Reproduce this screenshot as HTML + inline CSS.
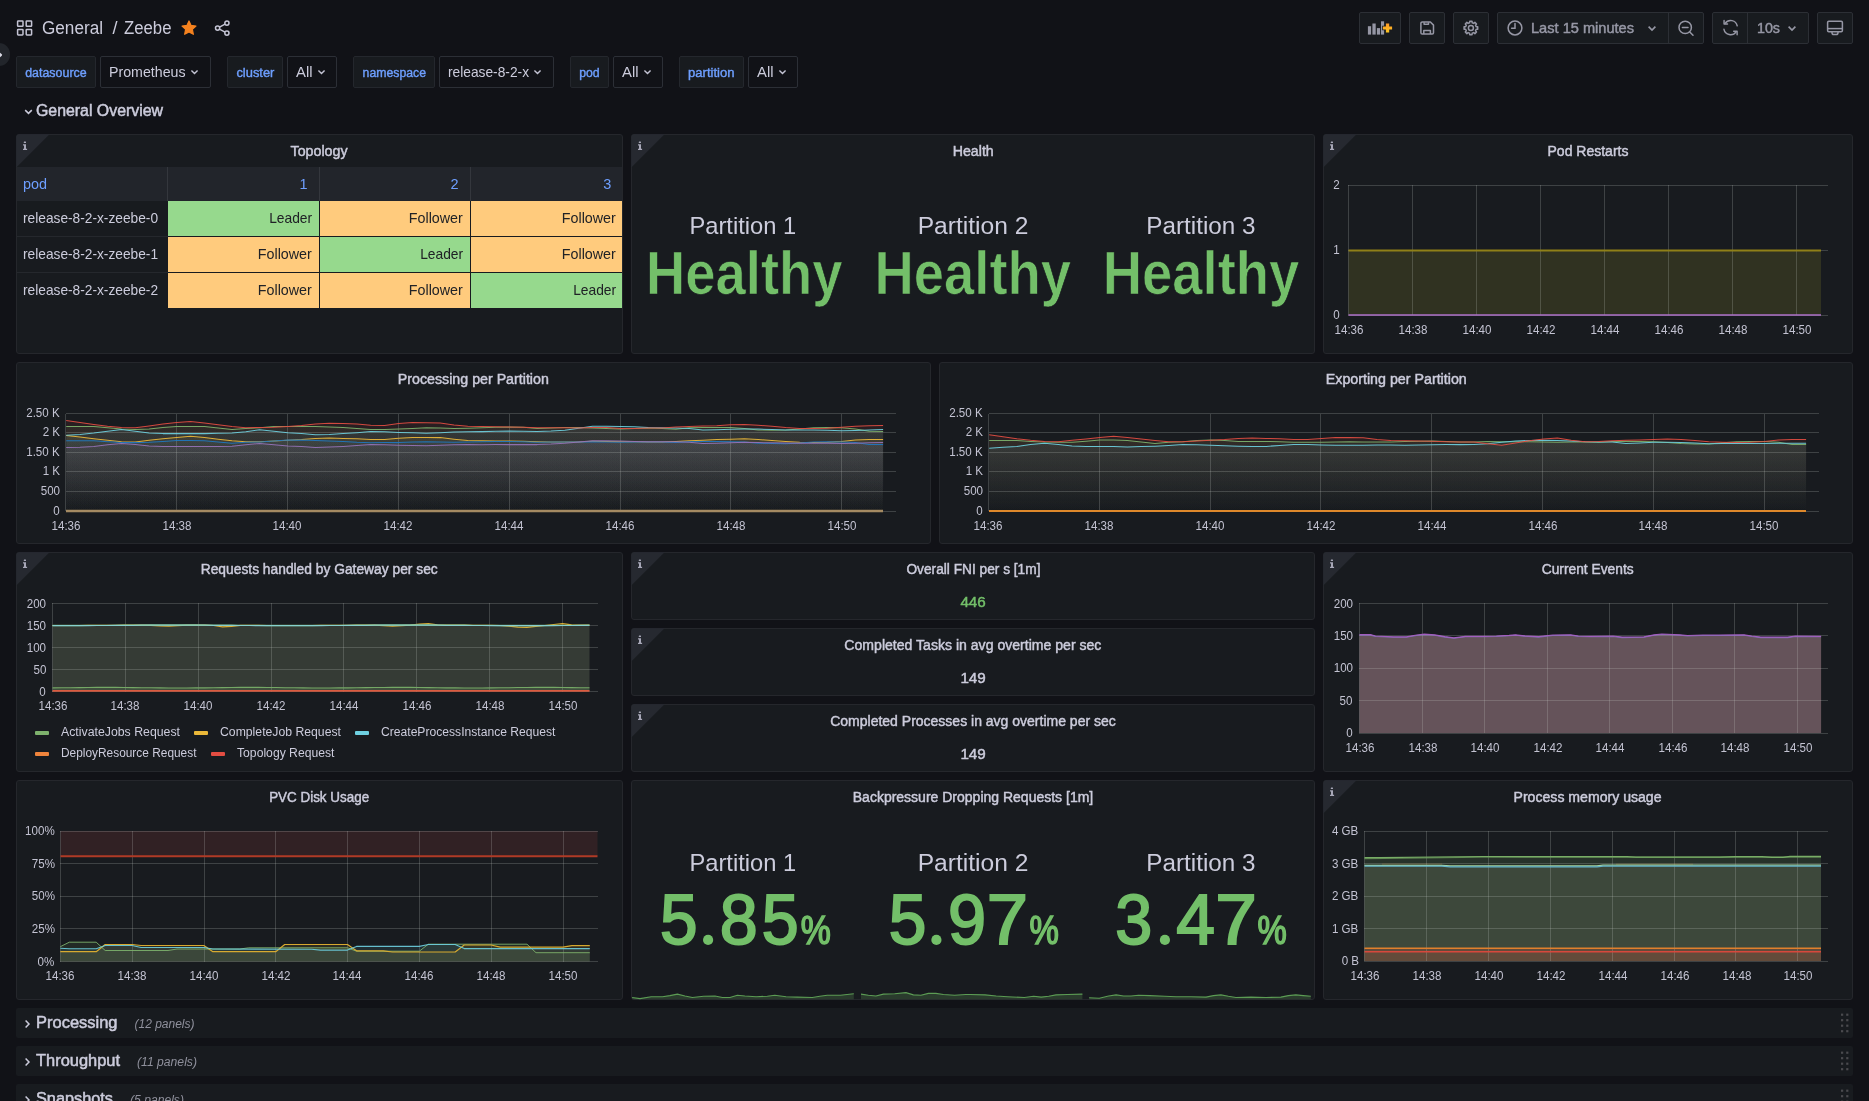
<!DOCTYPE html>
<html><head><meta charset="utf-8"><title>Zeebe - Grafana</title>
<style>
html,body{margin:0;padding:0;}
body{width:1869px;height:1101px;overflow:hidden;background:#111217;position:relative;font-family:"Liberation Sans",sans-serif;-webkit-font-smoothing:antialiased;}
span{display:block;}
svg{display:block;overflow:visible;}
#app{position:absolute;left:0;top:0;width:100%;height:100%;will-change:transform;}
</style></head><body><div id="app">
<svg style="position:absolute;left:16px;top:19px" width="18" height="18" viewBox="0 0 18 18" fill="none" stroke="#c4c4d4" stroke-width="1.5"><rect x="1.6" y="1.9" width="5.4" height="5.4" rx=".6"/><rect x="10.2" y="1.9" width="5.4" height="5.4" rx=".6"/><rect x="1.6" y="10.5" width="5.4" height="5.4" rx=".6"/><rect x="10.2" y="10.5" width="5.4" height="5.4" rx=".6"/></svg>
<span style="position:absolute;top:16.00px;font-size:18px;line-height:24px;color:#ccccdc;white-space:nowrap;left:42.00px;transform-origin:0 50%;transform:scaleX(0.9525);">General</span>
<span style="position:absolute;top:16.00px;font-size:18px;line-height:24px;color:#ccccdc;white-space:nowrap;left:112.50px;transform-origin:0 50%;">/</span>
<span style="position:absolute;top:16.00px;font-size:18px;line-height:24px;color:#ccccdc;white-space:nowrap;left:124.00px;transform-origin:0 50%;transform:scaleX(0.9306);">Zeebe</span>
<svg style="position:absolute;left:180px;top:19px" width="18" height="18" viewBox="0 0 24 24"><path d="M12 2.6l2.8 6 6.5.8-4.8 4.5 1.3 6.5L12 17.2l-5.8 3.2 1.3-6.5L2.7 9.4l6.5-.8z" fill="#f5821f" stroke="#f5821f" stroke-width="1.6" stroke-linejoin="round"/></svg>
<svg style="position:absolute;left:213px;top:19px" width="19" height="18" viewBox="0 0 19 18" fill="none" stroke="#c4c4d4" stroke-width="1.5"><circle cx="13.9" cy="4.1" r="2.1"/><circle cx="4.6" cy="9.1" r="2.1"/><circle cx="13.9" cy="14.1" r="2.1"/><path d="M6.5 8.1l5.5-3M6.5 10.1l5.5 3"/></svg>
<div style="position:absolute;left:-12px;top:43px;width:22px;height:23px;border-radius:12px;background:#22252b"></div>
<svg style="position:absolute;left:0;top:50px" width="4" height="10" viewBox="0 0 4 10"><path d="M-1.4 2.6l2.6 2.4-2.600 2.400" fill="none" stroke="#d8d8e4" stroke-width="1.8" stroke-linecap="round" stroke-linejoin="round"/></svg>
<div style="position:absolute;left:1359px;top:12px;width:42px;height:32px;box-sizing:border-box;background:#181b1f;border:1px solid #2c2f35;border-radius:2px;"></div>
<div style="position:absolute;left:1409px;top:12px;width:36px;height:32px;box-sizing:border-box;background:#181b1f;border:1px solid #2c2f35;border-radius:2px;"></div>
<div style="position:absolute;left:1453px;top:12px;width:36px;height:32px;box-sizing:border-box;background:#181b1f;border:1px solid #2c2f35;border-radius:2px;"></div>
<div style="position:absolute;left:1497px;top:12px;width:207px;height:32px;box-sizing:border-box;background:#181b1f;border:1px solid #2c2f35;border-radius:2px;"></div>
<div style="position:absolute;left:1668px;top:13px;width:1px;height:30px;box-sizing:border-box;background:#2c2f35;"></div>
<div style="position:absolute;left:1712px;top:12px;width:97px;height:32px;box-sizing:border-box;background:#181b1f;border:1px solid #2c2f35;border-radius:2px;"></div>
<div style="position:absolute;left:1747px;top:13px;width:1px;height:30px;box-sizing:border-box;background:#2c2f35;"></div>
<div style="position:absolute;left:1817px;top:12px;width:36px;height:32px;box-sizing:border-box;background:#181b1f;border:1px solid #2c2f35;border-radius:2px;"></div>
<svg style="position:absolute;left:1365px;top:18px" width="30" height="20" viewBox="1365 18 30 20"><defs><linearGradient id="plg" x1="0" y1="0" x2="0" y2="1"><stop offset="0" stop-color="#ff9a26"/><stop offset="1" stop-color="#fcc521"/></linearGradient></defs><g fill="#9596a4"><rect x="1367.9" y="26.2" width="3.2" height="8.4"/><rect x="1372.4" y="23.5" width="3.3" height="11.1"/><rect x="1376.9" y="28.1" width="3.2" height="6.5"/><rect x="1381" y="21.3" width="3.1" height="13.3"/></g><path d="M1385.9 23.6h3.3v2.8h2.9v3.2h-2.9v2.8h-3.3v-2.8h-3v-3.2h3z" fill="url(#plg)" stroke="#181b1f" stroke-width="1.5" paint-order="stroke"/></svg>
<svg style="position:absolute;left:1418px;top:19px" width="18" height="18" viewBox="1418 19 18 18" fill="none" stroke="#9697a5" stroke-width="1.5" stroke-linejoin="round"><path d="M1422.2 22h8.2l3.1 3.1v7.7a1.3 1.3 0 0 1-1.3 1.3h-10a1.3 1.3 0 0 1-1.3-1.3V23.300a1.3 1.3 0 0 1 1.3-1.3z"/><path d="M1424.1 22.2v2.1h4.4v-2.100M1423.8 34v-3.4h6.600V34"/></svg>
<svg style="position:absolute;left:1461px;top:18px" width="20" height="20" viewBox="1461 18 20 20" fill="none" stroke="#9697a5" stroke-width="1.5" stroke-linejoin="round"><circle cx="1470.9" cy="28" r="2.5"/><path d="M1469.64 22.75L1469.77 21.19L1472.03 21.19L1472.16 22.75L1473.72 23.40L1474.91 22.39L1476.51 23.99L1475.50 25.18L1476.15 26.74L1477.71 26.87L1477.71 29.13L1476.15 29.26L1475.50 30.82L1476.51 32.01L1474.91 33.61L1473.72 32.60L1472.16 33.25L1472.03 34.81L1469.77 34.81L1469.64 33.25L1468.08 32.60L1466.89 33.61L1465.29 32.01L1466.30 30.82L1465.65 29.26L1464.09 29.13L1464.09 26.87L1465.65 26.74L1466.30 25.18L1465.29 23.99L1466.89 22.39L1468.08 23.40Z"/></svg>
<svg style="position:absolute;left:1506px;top:19px" width="18" height="18" viewBox="0 0 18 18" fill="none" stroke="#9697a5" stroke-width="1.5"><circle cx="9" cy="9" r="6.9"/><path d="M9 4.6v4.6H5.6" stroke-linecap="round"/></svg>
<span style="position:absolute;top:18.50px;font-size:14.5px;line-height:19px;color:#9697a5;white-space:nowrap;-webkit-text-stroke:0.46px #9697a5;left:1531.00px;transform-origin:0 50%;transform:scaleX(1.0064);">Last 15 minutes</span>
<svg style="position:absolute;left:1647px;top:25px" width="10.0" height="7.0" viewBox="0 0 10 7"><path d="M1.6 1.6l3.4 3.4 3.4-3.4" fill="none" stroke="#9697a5" stroke-width="1.6"/></svg>
<svg style="position:absolute;left:1677px;top:19px" width="19" height="19" viewBox="0 0 19 19" fill="none" stroke="#9697a5" stroke-width="1.5" stroke-linecap="round"><circle cx="8.2" cy="8.4" r="6.2"/><path d="M5.4 8.4h5.6M12.8 13l3.2 3.2"/></svg>
<svg style="position:absolute;left:1720.5px;top:18.4px" width="19.2" height="19.2" viewBox="0 0 20 20" fill="none" stroke="#9697a5" stroke-width="1.5" stroke-linecap="round" stroke-linejoin="round"><path d="M16.9 8.2A7 7 0 0 0 4.3 5.6M3.1 11.8a7 7 0 0 0 12.6 2.6"/><path d="M3.2 2.6v3.6h3.6M16.8 17.4v-3.6h-3.6"/></svg>
<span style="position:absolute;top:18.50px;font-size:14.5px;line-height:19px;color:#9697a5;white-space:nowrap;-webkit-text-stroke:0.46px #9697a5;left:1757.00px;transform-origin:0 50%;transform:scaleX(0.9840);">10s</span>
<svg style="position:absolute;left:1787px;top:25px" width="10.0" height="7.0" viewBox="0 0 10 7"><path d="M1.6 1.6l3.4 3.4 3.4-3.4" fill="none" stroke="#9697a5" stroke-width="1.6"/></svg>
<svg style="position:absolute;left:1825px;top:19px" width="20" height="18" viewBox="0 0 20 18" fill="none" stroke="#9697a5" stroke-width="1.5" stroke-linejoin="round"><rect x="2.6" y="2.2" width="14.8" height="10.6" rx="1.2"/><path d="M2.6 9.6h14.8"/><path d="M7 13v.8c0 1.2.8 1.8 1.8 1.8h2.4c1 0 1.8-.6 1.8-1.8V13" /></svg>
<div style="position:absolute;left:16px;top:56px;width:80px;height:32px;box-sizing:border-box;background:#181b1f;border:1px solid #24272d;border-radius:2px;"></div>
<span style="position:absolute;top:64.50px;font-size:12.5px;line-height:17px;color:#6e9fff;white-space:nowrap;-webkit-text-stroke:0.4px #6e9fff;left:25.07px;transform-origin:50% 50%;transform:scaleX(0.9943);">datasource</span>
<div style="position:absolute;left:100px;top:56px;width:111px;height:32px;box-sizing:border-box;background:#111217;border:1px solid #2c2f36;border-radius:2px;"></div>
<span style="position:absolute;top:62.50px;font-size:14.5px;line-height:19px;color:#ccccdc;white-space:nowrap;left:109.00px;transform-origin:0 50%;transform:scaleX(0.9787);">Prometheus</span>
<svg style="position:absolute;left:189.5px;top:69px" width="9.0" height="6.3" viewBox="0 0 10 7"><path d="M1.6 1.6l3.4 3.4 3.4-3.4" fill="none" stroke="#c4c4d4" stroke-width="1.6"/></svg>
<div style="position:absolute;left:227px;top:56px;width:56px;height:32px;box-sizing:border-box;background:#181b1f;border:1px solid #24272d;border-radius:2px;"></div>
<span style="position:absolute;top:64.50px;font-size:12.5px;line-height:17px;color:#6e9fff;white-space:nowrap;-webkit-text-stroke:0.4px #6e9fff;left:236.59px;transform-origin:50% 50%;transform:scaleX(1.0320);">cluster</span>
<div style="position:absolute;left:287px;top:56px;width:50px;height:32px;box-sizing:border-box;background:#111217;border:1px solid #2c2f36;border-radius:2px;"></div>
<span style="position:absolute;top:62.50px;font-size:14.5px;line-height:19px;color:#ccccdc;white-space:nowrap;left:296.00px;transform-origin:0 50%;transform:scaleX(1.0238);">All</span>
<svg style="position:absolute;left:316.5px;top:69px" width="9.0" height="6.3" viewBox="0 0 10 7"><path d="M1.6 1.6l3.4 3.4 3.4-3.4" fill="none" stroke="#c4c4d4" stroke-width="1.6"/></svg>
<div style="position:absolute;left:353px;top:56px;width:82px;height:32px;box-sizing:border-box;background:#181b1f;border:1px solid #24272d;border-radius:2px;"></div>
<span style="position:absolute;top:64.50px;font-size:12.5px;line-height:17px;color:#6e9fff;white-space:nowrap;-webkit-text-stroke:0.4px #6e9fff;left:361.68px;transform-origin:50% 50%;transform:scaleX(0.9825);">namespace</span>
<div style="position:absolute;left:439px;top:56px;width:115px;height:32px;box-sizing:border-box;background:#111217;border:1px solid #2c2f36;border-radius:2px;"></div>
<span style="position:absolute;top:62.50px;font-size:14.5px;line-height:19px;color:#ccccdc;white-space:nowrap;left:448.00px;transform-origin:0 50%;transform:scaleX(0.9484);">release-8-2-x</span>
<svg style="position:absolute;left:533px;top:69px" width="9.0" height="6.3" viewBox="0 0 10 7"><path d="M1.6 1.6l3.4 3.4 3.4-3.4" fill="none" stroke="#c4c4d4" stroke-width="1.6"/></svg>
<div style="position:absolute;left:570px;top:56px;width:39px;height:32px;box-sizing:border-box;background:#181b1f;border:1px solid #24272d;border-radius:2px;"></div>
<span style="position:absolute;top:64.50px;font-size:12.5px;line-height:17px;color:#6e9fff;white-space:nowrap;-webkit-text-stroke:0.4px #6e9fff;left:579.07px;transform-origin:50% 50%;transform:scaleX(0.9828);">pod</span>
<div style="position:absolute;left:613px;top:56px;width:50px;height:32px;box-sizing:border-box;background:#111217;border:1px solid #2c2f36;border-radius:2px;"></div>
<span style="position:absolute;top:62.50px;font-size:14.5px;line-height:19px;color:#ccccdc;white-space:nowrap;left:622.00px;transform-origin:0 50%;transform:scaleX(1.0238);">All</span>
<svg style="position:absolute;left:642.5px;top:69px" width="9.0" height="6.3" viewBox="0 0 10 7"><path d="M1.6 1.6l3.4 3.4 3.4-3.4" fill="none" stroke="#c4c4d4" stroke-width="1.6"/></svg>
<div style="position:absolute;left:679px;top:56px;width:65px;height:32px;box-sizing:border-box;background:#181b1f;border:1px solid #24272d;border-radius:2px;"></div>
<span style="position:absolute;top:64.50px;font-size:12.5px;line-height:17px;color:#6e9fff;white-space:nowrap;-webkit-text-stroke:0.4px #6e9fff;left:689.26px;transform-origin:50% 50%;transform:scaleX(1.0455);">partition</span>
<div style="position:absolute;left:748px;top:56px;width:50px;height:32px;box-sizing:border-box;background:#111217;border:1px solid #2c2f36;border-radius:2px;"></div>
<span style="position:absolute;top:62.50px;font-size:14.5px;line-height:19px;color:#ccccdc;white-space:nowrap;left:757.00px;transform-origin:0 50%;transform:scaleX(1.0238);">All</span>
<svg style="position:absolute;left:777.5px;top:69px" width="9.0" height="6.3" viewBox="0 0 10 7"><path d="M1.6 1.6l3.4 3.4 3.4-3.4" fill="none" stroke="#c4c4d4" stroke-width="1.6"/></svg>
<svg style="position:absolute;left:23.6px;top:108.8px" width="9" height="6" viewBox="0 0 9 6"><path d="M1.2 1.1l3.3 3.3 3.3-3.3" fill="none" stroke="#ccccdc" stroke-width="1.5"/></svg>
<span style="position:absolute;top:100.00px;font-size:16px;line-height:21px;color:#ccccdc;white-space:nowrap;-webkit-text-stroke:0.51px #ccccdc;left:36.00px;transform-origin:0 50%;transform:scaleX(0.9918);">General Overview</span>
<div style="position:absolute;left:16px;top:134px;width:607px;height:220px;box-sizing:border-box;background:#181b1f;border:1px solid #25272c;border-radius:3px;"></div>
<svg style="position:absolute;left:16px;top:134px" width="34" height="34" viewBox="0 0 34 34"><path d="M0.300 3.300a3 3 0 0 1 3-3H33.600L0.300 33.600Z" fill="#262930"/><g fill="#a7a7b7"><rect x="7.8" y="7.5" width="2.2" height="1.600" rx=".4"/><path d="M7 10.300h3v4.400h1.100v1.300H7v-1.300h1v-3.200H7z"/></g></svg>
<span style="position:absolute;top:141.50px;font-size:14px;line-height:19px;color:#ccccdc;white-space:nowrap;-webkit-text-stroke:0.45px #ccccdc;left:291.48px;transform-origin:50% 50%;transform:scaleX(1.0172);">Topology</span>
<div style="position:absolute;left:631px;top:134px;width:684px;height:220px;box-sizing:border-box;background:#181b1f;border:1px solid #25272c;border-radius:3px;"></div>
<svg style="position:absolute;left:631px;top:134px" width="34" height="34" viewBox="0 0 34 34"><path d="M0.300 3.300a3 3 0 0 1 3-3H33.600L0.300 33.600Z" fill="#262930"/><g fill="#a7a7b7"><rect x="7.8" y="7.5" width="2.2" height="1.600" rx=".4"/><path d="M7 10.300h3v4.400h1.100v1.300H7v-1.300h1v-3.200H7z"/></g></svg>
<span style="position:absolute;top:141.50px;font-size:14px;line-height:19px;color:#ccccdc;white-space:nowrap;-webkit-text-stroke:0.45px #ccccdc;left:952.77px;transform-origin:50% 50%;transform:scaleX(1.0132);">Health</span>
<div style="position:absolute;left:1323px;top:134px;width:530px;height:220px;box-sizing:border-box;background:#181b1f;border:1px solid #25272c;border-radius:3px;"></div>
<svg style="position:absolute;left:1323px;top:134px" width="34" height="34" viewBox="0 0 34 34"><path d="M0.300 3.300a3 3 0 0 1 3-3H33.600L0.300 33.600Z" fill="#262930"/><g fill="#a7a7b7"><rect x="7.8" y="7.5" width="2.2" height="1.600" rx=".4"/><path d="M7 10.300h3v4.400h1.100v1.300H7v-1.300h1v-3.200H7z"/></g></svg>
<span style="position:absolute;top:141.50px;font-size:14px;line-height:19px;color:#ccccdc;white-space:nowrap;-webkit-text-stroke:0.45px #ccccdc;left:1547.54px;transform-origin:50% 50%;">Pod Restarts</span>
<div style="position:absolute;left:16px;top:362px;width:915px;height:182px;box-sizing:border-box;background:#181b1f;border:1px solid #25272c;border-radius:3px;"></div>
<span style="position:absolute;top:369.50px;font-size:14px;line-height:19px;color:#ccccdc;white-space:nowrap;-webkit-text-stroke:0.45px #ccccdc;left:399.19px;transform-origin:50% 50%;transform:scaleX(1.0160);">Processing per Partition</span>
<div style="position:absolute;left:939px;top:362px;width:914px;height:182px;box-sizing:border-box;background:#181b1f;border:1px solid #25272c;border-radius:3px;"></div>
<span style="position:absolute;top:369.50px;font-size:14px;line-height:19px;color:#ccccdc;white-space:nowrap;-webkit-text-stroke:0.45px #ccccdc;left:1326.74px;transform-origin:50% 50%;transform:scaleX(1.0179);">Exporting per Partition</span>
<div style="position:absolute;left:16px;top:552px;width:607px;height:220px;box-sizing:border-box;background:#181b1f;border:1px solid #25272c;border-radius:3px;"></div>
<svg style="position:absolute;left:16px;top:552px" width="34" height="34" viewBox="0 0 34 34"><path d="M0.300 3.300a3 3 0 0 1 3-3H33.600L0.300 33.600Z" fill="#262930"/><g fill="#a7a7b7"><rect x="7.8" y="7.5" width="2.2" height="1.600" rx=".4"/><path d="M7 10.300h3v4.400h1.100v1.300H7v-1.300h1v-3.200H7z"/></g></svg>
<span style="position:absolute;top:559.50px;font-size:14px;line-height:19px;color:#ccccdc;white-space:nowrap;-webkit-text-stroke:0.45px #ccccdc;left:199.27px;transform-origin:50% 50%;transform:scaleX(0.9856);">Requests handled by Gateway per sec</span>
<div style="position:absolute;left:631px;top:552px;width:684px;height:68px;box-sizing:border-box;background:#181b1f;border:1px solid #25272c;border-radius:3px;"></div>
<svg style="position:absolute;left:631px;top:552px" width="34" height="34" viewBox="0 0 34 34"><path d="M0.300 3.300a3 3 0 0 1 3-3H33.600L0.300 33.600Z" fill="#262930"/><g fill="#a7a7b7"><rect x="7.8" y="7.5" width="2.2" height="1.600" rx=".4"/><path d="M7 10.300h3v4.400h1.100v1.300H7v-1.300h1v-3.200H7z"/></g></svg>
<span style="position:absolute;top:559.50px;font-size:14px;line-height:19px;color:#ccccdc;white-space:nowrap;-webkit-text-stroke:0.45px #ccccdc;left:904.54px;transform-origin:50% 50%;transform:scaleX(0.9787);">Overall FNI per s [1m]</span>
<div style="position:absolute;left:631px;top:628px;width:684px;height:68px;box-sizing:border-box;background:#181b1f;border:1px solid #25272c;border-radius:3px;"></div>
<svg style="position:absolute;left:631px;top:628px" width="34" height="34" viewBox="0 0 34 34"><path d="M0.300 3.300a3 3 0 0 1 3-3H33.600L0.300 33.600Z" fill="#262930"/><g fill="#a7a7b7"><rect x="7.8" y="7.5" width="2.2" height="1.600" rx=".4"/><path d="M7 10.300h3v4.400h1.100v1.300H7v-1.300h1v-3.200H7z"/></g></svg>
<span style="position:absolute;top:635.50px;font-size:14px;line-height:19px;color:#ccccdc;white-space:nowrap;-webkit-text-stroke:0.45px #ccccdc;left:845.13px;transform-origin:50% 50%;transform:scaleX(1.0049);">Completed Tasks in avg overtime per sec</span>
<div style="position:absolute;left:631px;top:704px;width:684px;height:68px;box-sizing:border-box;background:#181b1f;border:1px solid #25272c;border-radius:3px;"></div>
<svg style="position:absolute;left:631px;top:704px" width="34" height="34" viewBox="0 0 34 34"><path d="M0.300 3.300a3 3 0 0 1 3-3H33.600L0.300 33.600Z" fill="#262930"/><g fill="#a7a7b7"><rect x="7.8" y="7.5" width="2.2" height="1.600" rx=".4"/><path d="M7 10.300h3v4.400h1.100v1.300H7v-1.300h1v-3.200H7z"/></g></svg>
<span style="position:absolute;top:711.50px;font-size:14px;line-height:19px;color:#ccccdc;white-space:nowrap;-webkit-text-stroke:0.45px #ccccdc;left:830.21px;transform-origin:50% 50%;">Completed Processes in avg overtime per sec</span>
<div style="position:absolute;left:1323px;top:552px;width:530px;height:220px;box-sizing:border-box;background:#181b1f;border:1px solid #25272c;border-radius:3px;"></div>
<svg style="position:absolute;left:1323px;top:552px" width="34" height="34" viewBox="0 0 34 34"><path d="M0.300 3.300a3 3 0 0 1 3-3H33.600L0.300 33.600Z" fill="#262930"/><g fill="#a7a7b7"><rect x="7.8" y="7.5" width="2.2" height="1.600" rx=".4"/><path d="M7 10.300h3v4.400h1.100v1.300H7v-1.300h1v-3.200H7z"/></g></svg>
<span style="position:absolute;top:559.50px;font-size:14px;line-height:19px;color:#ccccdc;white-space:nowrap;-webkit-text-stroke:0.45px #ccccdc;left:1541.31px;transform-origin:50% 50%;transform:scaleX(0.9853);">Current Events</span>
<div style="position:absolute;left:16px;top:780px;width:607px;height:220px;box-sizing:border-box;background:#181b1f;border:1px solid #25272c;border-radius:3px;"></div>
<span style="position:absolute;top:787.50px;font-size:14px;line-height:19px;color:#ccccdc;white-space:nowrap;-webkit-text-stroke:0.45px #ccccdc;left:267.37px;transform-origin:50% 50%;transform:scaleX(0.9592);">PVC Disk Usage</span>
<div style="position:absolute;left:631px;top:780px;width:684px;height:220px;box-sizing:border-box;background:#181b1f;border:1px solid #25272c;border-radius:3px;"></div>
<span style="position:absolute;top:787.50px;font-size:14px;line-height:19px;color:#ccccdc;white-space:nowrap;-webkit-text-stroke:0.45px #ccccdc;left:852.78px;transform-origin:50% 50%;">Backpressure Dropping Requests [1m]</span>
<div style="position:absolute;left:1323px;top:780px;width:530px;height:220px;box-sizing:border-box;background:#181b1f;border:1px solid #25272c;border-radius:3px;"></div>
<svg style="position:absolute;left:1323px;top:780px" width="34" height="34" viewBox="0 0 34 34"><path d="M0.300 3.300a3 3 0 0 1 3-3H33.600L0.300 33.600Z" fill="#262930"/><g fill="#a7a7b7"><rect x="7.8" y="7.5" width="2.2" height="1.600" rx=".4"/><path d="M7 10.300h3v4.400h1.100v1.300H7v-1.300h1v-3.200H7z"/></g></svg>
<span style="position:absolute;top:787.50px;font-size:14px;line-height:19px;color:#ccccdc;white-space:nowrap;-webkit-text-stroke:0.45px #ccccdc;left:1514.47px;transform-origin:50% 50%;transform:scaleX(1.0064);">Process memory usage</span>
<div style="position:absolute;left:17px;top:167px;width:605px;height:34px;box-sizing:border-box;background:#22252b;"></div>
<div style="position:absolute;left:167px;top:167px;width:1px;height:34px;box-sizing:border-box;background:#34373d;"></div>
<div style="position:absolute;left:319px;top:167px;width:1px;height:34px;box-sizing:border-box;background:#34373d;"></div>
<div style="position:absolute;left:470px;top:167px;width:1px;height:34px;box-sizing:border-box;background:#34373d;"></div>
<span style="position:absolute;top:174.50px;font-size:14.5px;line-height:19px;color:#6e9fff;white-space:nowrap;left:23.00px;transform-origin:0 50%;transform:scaleX(0.9922);">pod</span>
<span style="position:absolute;top:174.50px;font-size:14.5px;line-height:19px;color:#6e9fff;white-space:nowrap;left:299.44px;transform-origin:100% 50%;">1</span>
<span style="position:absolute;top:174.50px;font-size:14.5px;line-height:19px;color:#6e9fff;white-space:nowrap;left:450.44px;transform-origin:100% 50%;">2</span>
<span style="position:absolute;top:174.50px;font-size:14.5px;line-height:19px;color:#6e9fff;white-space:nowrap;left:603.24px;transform-origin:100% 50%;">3</span>
<div style="position:absolute;left:17px;top:236px;width:151px;height:1px;box-sizing:border-box;background:#25282d;"></div>
<span style="position:absolute;top:209.00px;font-size:14.5px;line-height:19px;color:#ccccdc;white-space:nowrap;left:23.00px;transform-origin:0 50%;transform:scaleX(0.9465);">release-8-2-x-zeebe-0</span>
<div style="position:absolute;left:168px;top:201px;width:151px;height:35px;box-sizing:border-box;background:#96d98d;"></div>
<span style="position:absolute;top:209.00px;font-size:14.5px;line-height:19px;color:#202226;white-space:nowrap;left:266.86px;transform-origin:100% 50%;transform:scaleX(0.9526);">Leader</span>
<div style="position:absolute;left:320px;top:201px;width:150px;height:35px;box-sizing:border-box;background:#ffcb7d;"></div>
<span style="position:absolute;top:209.00px;font-size:14.5px;line-height:19px;color:#202226;white-space:nowrap;left:408.21px;transform-origin:100% 50%;transform:scaleX(0.9856);">Follower</span>
<div style="position:absolute;left:471px;top:201px;width:151px;height:35px;box-sizing:border-box;background:#ffcb7d;"></div>
<span style="position:absolute;top:209.00px;font-size:14.5px;line-height:19px;color:#202226;white-space:nowrap;left:560.91px;transform-origin:100% 50%;transform:scaleX(0.9856);">Follower</span>
<div style="position:absolute;left:17px;top:272px;width:151px;height:1px;box-sizing:border-box;background:#25282d;"></div>
<span style="position:absolute;top:245.00px;font-size:14.5px;line-height:19px;color:#ccccdc;white-space:nowrap;left:23.00px;transform-origin:0 50%;transform:scaleX(0.9465);">release-8-2-x-zeebe-1</span>
<div style="position:absolute;left:168px;top:237px;width:151px;height:35px;box-sizing:border-box;background:#ffcb7d;"></div>
<span style="position:absolute;top:245.00px;font-size:14.5px;line-height:19px;color:#202226;white-space:nowrap;left:257.21px;transform-origin:100% 50%;transform:scaleX(0.9856);">Follower</span>
<div style="position:absolute;left:320px;top:237px;width:150px;height:35px;box-sizing:border-box;background:#96d98d;"></div>
<span style="position:absolute;top:245.00px;font-size:14.5px;line-height:19px;color:#202226;white-space:nowrap;left:417.86px;transform-origin:100% 50%;transform:scaleX(0.9526);">Leader</span>
<div style="position:absolute;left:471px;top:237px;width:151px;height:35px;box-sizing:border-box;background:#ffcb7d;"></div>
<span style="position:absolute;top:245.00px;font-size:14.5px;line-height:19px;color:#202226;white-space:nowrap;left:560.91px;transform-origin:100% 50%;transform:scaleX(0.9856);">Follower</span>
<span style="position:absolute;top:281.00px;font-size:14.5px;line-height:19px;color:#ccccdc;white-space:nowrap;left:23.00px;transform-origin:0 50%;transform:scaleX(0.9465);">release-8-2-x-zeebe-2</span>
<div style="position:absolute;left:168px;top:273px;width:151px;height:35px;box-sizing:border-box;background:#ffcb7d;"></div>
<span style="position:absolute;top:281.00px;font-size:14.5px;line-height:19px;color:#202226;white-space:nowrap;left:257.21px;transform-origin:100% 50%;transform:scaleX(0.9856);">Follower</span>
<div style="position:absolute;left:320px;top:273px;width:150px;height:35px;box-sizing:border-box;background:#ffcb7d;"></div>
<span style="position:absolute;top:281.00px;font-size:14.5px;line-height:19px;color:#202226;white-space:nowrap;left:408.21px;transform-origin:100% 50%;transform:scaleX(0.9856);">Follower</span>
<div style="position:absolute;left:471px;top:273px;width:151px;height:35px;box-sizing:border-box;background:#96d98d;"></div>
<span style="position:absolute;top:281.00px;font-size:14.5px;line-height:19px;color:#202226;white-space:nowrap;left:570.56px;transform-origin:100% 50%;transform:scaleX(0.9526);">Leader</span>
<svg style="position:absolute;left:0;top:0;pointer-events:none" width="1869" height="1101" viewBox="0 0 1869 1101"><text transform="translate(689.44 234.10) scale(0.9602 1.0000)" font-family="Liberation Sans, sans-serif" font-size="24.7" fill="#ccccdc">Partition 1</text></svg>
<svg style="position:absolute;left:0;top:0;pointer-events:none" width="1869" height="1101" viewBox="0 0 1869 1101"><text transform="translate(646.02 294.00) scale(0.8945 1.0000)" font-family="Liberation Sans, sans-serif" font-size="60.8" font-weight="700" fill="#73bf69" stroke="#181b1f" stroke-width="0.7" stroke-linejoin="miter" stroke-miterlimit="6">Healthy</text></svg>
<svg style="position:absolute;left:0;top:0;pointer-events:none" width="1869" height="1101" viewBox="0 0 1869 1101"><text transform="translate(917.67 234.10) scale(0.9959 1.0000)" font-family="Liberation Sans, sans-serif" font-size="24.7" fill="#ccccdc">Partition 2</text></svg>
<svg style="position:absolute;left:0;top:0;pointer-events:none" width="1869" height="1101" viewBox="0 0 1869 1101"><text transform="translate(874.52 294.00) scale(0.8945 1.0000)" font-family="Liberation Sans, sans-serif" font-size="60.8" font-weight="700" fill="#73bf69" stroke="#181b1f" stroke-width="0.7" stroke-linejoin="miter" stroke-miterlimit="6">Healthy</text></svg>
<svg style="position:absolute;left:0;top:0;pointer-events:none" width="1869" height="1101" viewBox="0 0 1869 1101"><text transform="translate(1146.30 234.10) scale(0.9822 1.0000)" font-family="Liberation Sans, sans-serif" font-size="24.7" fill="#ccccdc">Partition 3</text></svg>
<svg style="position:absolute;left:0;top:0;pointer-events:none" width="1869" height="1101" viewBox="0 0 1869 1101"><text transform="translate(1102.82 294.00) scale(0.8945 1.0000)" font-family="Liberation Sans, sans-serif" font-size="60.8" font-weight="700" fill="#73bf69" stroke="#181b1f" stroke-width="0.7" stroke-linejoin="miter" stroke-miterlimit="6">Healthy</text></svg>
<svg style="position:absolute;left:1323px;top:134px" width="530" height="220" viewBox="1323 134 530 220">
<rect x="1348.5" y="250.5" width="472.5" height="65" fill="#303221"/>
<path d="M1348.5 185.0V315.0M1412.5 185.0V315.0M1476.5 185.0V315.0M1540.5 185.0V315.0M1604.5 185.0V315.0M1668.5 185.0V315.0M1732.5 185.0V315.0M1796.5 185.0V315.0" stroke="rgba(205,208,206,0.215)" stroke-width="1" fill="none" shape-rendering="crispEdges"/>
<path d="M1348.0 185.5H1828.0M1348.0 250.5H1828.0M1348.0 315.5H1828.0" stroke="rgba(205,208,206,0.215)" stroke-width="1" fill="none" shape-rendering="crispEdges"/>
<path d="M1348.5 250.5H1821" stroke="#8f8018" stroke-width="2" fill="none"/>
<path d="M1348.5 315H1821" stroke="#ad70c8" stroke-width="1.7" fill="none"/>
</svg>
<span style="position:absolute;top:177.00px;font-size:12px;line-height:16px;color:#c3c3d2;white-space:nowrap;left:1332.92px;transform-origin:100% 50%;transform:scaleX(0.9650);">2</span>
<span style="position:absolute;top:242.00px;font-size:12px;line-height:16px;color:#c3c3d2;white-space:nowrap;left:1332.92px;transform-origin:100% 50%;transform:scaleX(0.9650);">1</span>
<span style="position:absolute;top:307.00px;font-size:12px;line-height:16px;color:#c3c3d2;white-space:nowrap;left:1332.92px;transform-origin:100% 50%;transform:scaleX(0.9650);">0</span>
<span style="position:absolute;top:321.80px;font-size:12px;line-height:16px;color:#c3c3d2;white-space:nowrap;left:1334.18px;transform-origin:50% 50%;transform:scaleX(0.9650);">14:36</span>
<span style="position:absolute;top:321.80px;font-size:12px;line-height:16px;color:#c3c3d2;white-space:nowrap;left:1398.21px;transform-origin:50% 50%;transform:scaleX(0.9650);">14:38</span>
<span style="position:absolute;top:321.80px;font-size:12px;line-height:16px;color:#c3c3d2;white-space:nowrap;left:1462.24px;transform-origin:50% 50%;transform:scaleX(0.9650);">14:40</span>
<span style="position:absolute;top:321.80px;font-size:12px;line-height:16px;color:#c3c3d2;white-space:nowrap;left:1526.27px;transform-origin:50% 50%;transform:scaleX(0.9650);">14:42</span>
<span style="position:absolute;top:321.80px;font-size:12px;line-height:16px;color:#c3c3d2;white-space:nowrap;left:1590.30px;transform-origin:50% 50%;transform:scaleX(0.9650);">14:44</span>
<span style="position:absolute;top:321.80px;font-size:12px;line-height:16px;color:#c3c3d2;white-space:nowrap;left:1654.33px;transform-origin:50% 50%;transform:scaleX(0.9650);">14:46</span>
<span style="position:absolute;top:321.80px;font-size:12px;line-height:16px;color:#c3c3d2;white-space:nowrap;left:1718.36px;transform-origin:50% 50%;transform:scaleX(0.9650);">14:48</span>
<span style="position:absolute;top:321.80px;font-size:12px;line-height:16px;color:#c3c3d2;white-space:nowrap;left:1782.39px;transform-origin:50% 50%;transform:scaleX(0.9650);">14:50</span>
<svg style="position:absolute;left:64px;top:400px" width="836" height="120" viewBox="64 400 836 120">
<defs><linearGradient id="g1_0" gradientUnits="userSpaceOnUse" x1="0" y1="426.4" x2="0" y2="511"><stop offset="0" stop-color="#7eb26d" stop-opacity="0.088"/><stop offset="1" stop-color="#7eb26d" stop-opacity="0"/></linearGradient></defs>
<polygon points="66.2,426.4 80.0,426.4 93.8,426.4 107.6,427.7 121.5,428.9 135.3,429.4 149.1,428.9 162.9,427.5 176.7,426.4 190.6,426.4 204.4,426.6 218.2,428.0 232.0,429.4 245.8,428.5 259.7,427.7 274.0,426.6 287.8,426.4 301.6,426.4 315.4,426.6 329.3,426.9 343.1,427.5 356.9,428.6 370.7,429.5 384.6,429.5 398.7,428.9 412.5,428.4 426.3,427.7 440.2,428.0 454.0,428.4 467.8,428.2 481.9,427.7 495.7,427.3 509.6,427.1 523.4,427.3 537.2,428.4 551.0,428.0 564.8,427.5 578.7,427.5 592.5,428.0 606.3,428.4 620.6,429.1 634.4,428.6 648.2,428.0 662.0,428.6 675.8,429.3 689.1,427.7 702.9,427.5 716.7,427.5 730.6,427.5 744.4,428.6 758.2,430.0 772.0,430.2 785.8,430.0 799.7,428.9 813.5,427.7 827.3,427.5 841.6,427.7 855.4,429.1 869.2,431.3 883.1,431.6 883.1,511.0 66.2,511.0" fill="url(#g1_0)"/>
<defs><linearGradient id="g1_1" gradientUnits="userSpaceOnUse" x1="0" y1="435.4" x2="0" y2="511"><stop offset="0" stop-color="#eab839" stop-opacity="0.088"/><stop offset="1" stop-color="#eab839" stop-opacity="0"/></linearGradient></defs>
<polygon points="66.2,435.4 80.0,436.9 93.8,438.7 107.6,440.3 121.5,441.7 135.3,441.9 149.1,440.3 162.9,438.7 176.7,437.4 190.6,436.3 204.4,437.6 218.2,439.2 232.0,440.7 245.8,441.7 259.7,441.7 274.0,441.0 287.8,440.3 301.6,439.6 315.4,438.5 329.3,438.1 343.1,438.5 356.9,438.7 370.7,439.4 384.6,439.4 398.7,438.3 412.5,437.4 426.3,437.6 440.2,437.6 454.0,439.2 467.8,440.5 481.9,440.8 495.7,441.0 509.6,441.0 523.4,441.2 537.2,441.7 551.0,441.9 564.8,442.1 578.7,441.9 592.5,441.2 606.3,441.4 620.6,441.7 634.4,441.7 648.2,441.9 662.0,442.1 675.8,441.4 689.1,440.8 702.9,440.3 716.7,439.6 730.6,439.2 744.4,438.7 758.2,439.6 772.0,440.5 785.8,441.4 799.7,442.3 813.5,442.6 827.3,442.3 841.6,441.4 855.4,440.1 869.2,439.6 883.1,439.4 883.1,511.0 66.2,511.0" fill="url(#g1_1)"/>
<defs><linearGradient id="g1_2" gradientUnits="userSpaceOnUse" x1="0" y1="426.2" x2="0" y2="511"><stop offset="0" stop-color="#6ed0e0" stop-opacity="0.088"/><stop offset="1" stop-color="#6ed0e0" stop-opacity="0"/></linearGradient></defs>
<polygon points="66.2,435.3 80.0,434.5 93.8,433.1 107.6,431.3 121.5,429.6 135.3,431.3 149.1,433.1 162.9,433.6 176.7,433.6 190.6,433.6 204.4,433.6 218.2,433.3 232.0,433.1 245.8,431.7 259.7,429.8 274.0,431.3 287.8,432.8 301.6,433.6 315.4,434.7 329.3,434.5 343.1,433.6 356.9,432.7 370.7,431.6 384.6,431.8 398.7,432.4 412.5,432.7 426.3,433.3 440.2,432.7 454.0,432.0 467.8,431.7 481.9,431.6 495.7,431.3 509.6,431.1 523.4,431.3 537.2,431.6 551.0,431.1 564.8,430.2 578.7,428.2 592.5,426.2 606.3,426.2 620.6,426.6 634.4,426.8 648.2,427.5 662.0,427.7 675.8,428.0 689.1,428.4 702.9,430.0 716.7,429.8 730.6,429.3 744.4,428.9 758.2,429.1 772.0,429.5 785.8,430.0 799.7,430.0 813.5,430.0 827.3,430.2 841.6,430.7 855.4,430.4 869.2,430.0 883.1,429.5 883.1,511.0 66.2,511.0" fill="url(#g1_2)"/>
<defs><linearGradient id="g1_3" gradientUnits="userSpaceOnUse" x1="0" y1="420.4" x2="0" y2="511"><stop offset="0" stop-color="#e24d42" stop-opacity="0.088"/><stop offset="1" stop-color="#e24d42" stop-opacity="0"/></linearGradient></defs>
<polygon points="66.2,420.4 80.0,422.4 93.8,424.4 107.6,426.3 121.5,427.5 135.3,427.7 149.1,426.0 162.9,424.1 176.7,422.4 190.6,421.4 204.4,423.0 218.2,424.7 232.0,426.4 245.8,427.7 259.7,427.5 274.0,427.2 287.8,426.4 301.6,425.5 315.4,424.1 329.3,423.2 343.1,423.5 356.9,424.1 370.7,425.3 384.6,425.5 398.7,423.6 412.5,422.4 426.3,422.7 440.2,423.0 454.0,424.9 467.8,426.3 481.9,426.6 495.7,426.8 509.6,427.1 523.4,427.3 537.2,427.7 551.0,427.7 564.8,427.7 578.7,428.0 592.5,427.5 606.3,427.5 620.6,428.4 634.4,428.4 648.2,428.0 662.0,428.0 675.8,427.1 689.1,426.4 702.9,425.9 716.7,425.7 730.6,424.8 744.4,424.4 758.2,425.3 772.0,426.2 785.8,427.5 799.7,428.4 813.5,428.4 827.3,428.2 841.6,427.3 855.4,426.2 869.2,425.7 883.1,425.5 883.1,511.0 66.2,511.0" fill="url(#g1_3)"/>
<defs><linearGradient id="g1_4" gradientUnits="userSpaceOnUse" x1="0" y1="440.1" x2="0" y2="511"><stop offset="0" stop-color="#1f78c1" stop-opacity="0.088"/><stop offset="1" stop-color="#1f78c1" stop-opacity="0"/></linearGradient></defs>
<polygon points="66.2,440.7 80.0,440.7 93.8,440.7 107.6,441.8 121.5,442.6 135.3,442.6 149.1,442.3 162.9,441.4 176.7,440.5 190.6,440.5 204.4,440.8 218.2,441.9 232.0,443.2 245.8,442.3 259.7,441.9 274.0,441.0 287.8,440.1 301.6,440.1 315.4,440.5 329.3,441.0 343.1,441.4 356.9,442.3 370.7,442.8 384.6,442.6 398.7,442.6 412.5,442.1 426.3,441.7 440.2,441.9 454.0,442.3 467.8,442.1 481.9,441.7 495.7,441.4 509.6,441.4 523.4,441.7 537.2,442.3 551.0,442.1 564.8,441.9 578.7,441.9 592.5,441.7 606.3,442.1 620.6,442.3 634.4,442.1 648.2,441.9 662.0,442.1 675.8,442.6 689.1,441.7 702.9,441.4 716.7,441.4 730.6,441.7 744.4,442.1 758.2,443.2 772.0,443.5 785.8,443.7 799.7,443.0 813.5,441.9 827.3,441.7 841.6,441.9 855.4,442.6 869.2,444.4 883.1,444.6 883.1,511.0 66.2,511.0" fill="url(#g1_4)"/>
<defs><linearGradient id="g1_5" gradientUnits="userSpaceOnUse" x1="0" y1="440.8" x2="0" y2="511"><stop offset="0" stop-color="#9673b9" stop-opacity="0.088"/><stop offset="1" stop-color="#9673b9" stop-opacity="0"/></linearGradient></defs>
<polygon points="66.2,447.6 80.0,447.3 93.8,446.4 107.6,444.8 121.5,443.5 135.3,444.6 149.1,445.9 162.9,446.4 176.7,446.5 190.6,446.5 204.4,446.5 218.2,446.4 232.0,446.2 245.8,444.8 259.7,443.5 274.0,444.8 287.8,445.9 301.6,446.6 315.4,447.5 329.3,447.1 343.1,446.4 356.9,445.5 370.7,444.4 384.6,444.8 398.7,445.3 412.5,445.5 426.3,445.7 440.2,445.3 454.0,444.8 467.8,444.6 481.9,444.8 495.7,444.6 509.6,444.6 523.4,444.6 537.2,444.6 551.0,444.1 564.8,443.2 578.7,441.9 592.5,440.8 606.3,440.8 620.6,441.0 634.4,441.4 648.2,441.7 662.0,441.7 675.8,441.7 689.1,442.3 702.9,443.5 716.7,443.2 730.6,442.8 744.4,442.3 758.2,442.6 772.0,442.8 785.8,443.0 799.7,443.2 813.5,443.2 827.3,443.2 841.6,443.5 855.4,443.2 869.2,442.8 883.1,442.6 883.1,511.0 66.2,511.0" fill="url(#g1_5)"/>
<path d="M65.5 413.5V511.0M176.5 413.5V511.0M287.5 413.5V511.0M398.5 413.5V511.0M509.5 413.5V511.0M620.5 413.5V511.0M730.5 413.5V511.0M841.5 413.5V511.0" stroke="rgba(205,208,206,0.215)" stroke-width="1" fill="none" shape-rendering="crispEdges"/>
<path d="M66.0 413.5H896.0M66.0 432.5H896.0M66.0 452.5H896.0M66.0 471.5H896.0M66.0 491.5H896.0M66.0 511.5H896.0" stroke="rgba(205,208,206,0.215)" stroke-width="1" fill="none" shape-rendering="crispEdges"/>
<polyline points="66.2,426.4 80.0,426.4 93.8,426.4 107.6,427.7 121.5,428.9 135.3,429.4 149.1,428.9 162.9,427.5 176.7,426.4 190.6,426.4 204.4,426.6 218.2,428.0 232.0,429.4 245.8,428.5 259.7,427.7 274.0,426.6 287.8,426.4 301.6,426.4 315.4,426.6 329.3,426.9 343.1,427.5 356.9,428.6 370.7,429.5 384.6,429.5 398.7,428.9 412.5,428.4 426.3,427.7 440.2,428.0 454.0,428.4 467.8,428.2 481.9,427.7 495.7,427.3 509.6,427.1 523.4,427.3 537.2,428.4 551.0,428.0 564.8,427.5 578.7,427.5 592.5,428.0 606.3,428.4 620.6,429.1 634.4,428.6 648.2,428.0 662.0,428.6 675.8,429.3 689.1,427.7 702.9,427.5 716.7,427.5 730.6,427.5 744.4,428.6 758.2,430.0 772.0,430.2 785.8,430.0 799.7,428.9 813.5,427.7 827.3,427.5 841.6,427.7 855.4,429.1 869.2,431.3 883.1,431.6" fill="none" stroke="#7eb26d" stroke-width="1.05" stroke-opacity="0.92" stroke-linejoin="round"/>
<polyline points="66.2,435.4 80.0,436.9 93.8,438.7 107.6,440.3 121.5,441.7 135.3,441.9 149.1,440.3 162.9,438.7 176.7,437.4 190.6,436.3 204.4,437.6 218.2,439.2 232.0,440.7 245.8,441.7 259.7,441.7 274.0,441.0 287.8,440.3 301.6,439.6 315.4,438.5 329.3,438.1 343.1,438.5 356.9,438.7 370.7,439.4 384.6,439.4 398.7,438.3 412.5,437.4 426.3,437.6 440.2,437.6 454.0,439.2 467.8,440.5 481.9,440.8 495.7,441.0 509.6,441.0 523.4,441.2 537.2,441.7 551.0,441.9 564.8,442.1 578.7,441.9 592.5,441.2 606.3,441.4 620.6,441.7 634.4,441.7 648.2,441.9 662.0,442.1 675.8,441.4 689.1,440.8 702.9,440.3 716.7,439.6 730.6,439.2 744.4,438.7 758.2,439.6 772.0,440.5 785.8,441.4 799.7,442.3 813.5,442.6 827.3,442.3 841.6,441.4 855.4,440.1 869.2,439.6 883.1,439.4" fill="none" stroke="#eab839" stroke-width="1.05" stroke-opacity="0.92" stroke-linejoin="round"/>
<polyline points="66.2,435.3 80.0,434.5 93.8,433.1 107.6,431.3 121.5,429.6 135.3,431.3 149.1,433.1 162.9,433.6 176.7,433.6 190.6,433.6 204.4,433.6 218.2,433.3 232.0,433.1 245.8,431.7 259.7,429.8 274.0,431.3 287.8,432.8 301.6,433.6 315.4,434.7 329.3,434.5 343.1,433.6 356.9,432.7 370.7,431.6 384.6,431.8 398.7,432.4 412.5,432.7 426.3,433.3 440.2,432.7 454.0,432.0 467.8,431.7 481.9,431.6 495.7,431.3 509.6,431.1 523.4,431.3 537.2,431.6 551.0,431.1 564.8,430.2 578.7,428.2 592.5,426.2 606.3,426.2 620.6,426.6 634.4,426.8 648.2,427.5 662.0,427.7 675.8,428.0 689.1,428.4 702.9,430.0 716.7,429.8 730.6,429.3 744.4,428.9 758.2,429.1 772.0,429.5 785.8,430.0 799.7,430.0 813.5,430.0 827.3,430.2 841.6,430.7 855.4,430.4 869.2,430.0 883.1,429.5" fill="none" stroke="#6ed0e0" stroke-width="1.05" stroke-opacity="0.92" stroke-linejoin="round"/>
<polyline points="66.2,420.4 80.0,422.4 93.8,424.4 107.6,426.3 121.5,427.5 135.3,427.7 149.1,426.0 162.9,424.1 176.7,422.4 190.6,421.4 204.4,423.0 218.2,424.7 232.0,426.4 245.8,427.7 259.7,427.5 274.0,427.2 287.8,426.4 301.6,425.5 315.4,424.1 329.3,423.2 343.1,423.5 356.9,424.1 370.7,425.3 384.6,425.5 398.7,423.6 412.5,422.4 426.3,422.7 440.2,423.0 454.0,424.9 467.8,426.3 481.9,426.6 495.7,426.8 509.6,427.1 523.4,427.3 537.2,427.7 551.0,427.7 564.8,427.7 578.7,428.0 592.5,427.5 606.3,427.5 620.6,428.4 634.4,428.4 648.2,428.0 662.0,428.0 675.8,427.1 689.1,426.4 702.9,425.9 716.7,425.7 730.6,424.8 744.4,424.4 758.2,425.3 772.0,426.2 785.8,427.5 799.7,428.4 813.5,428.4 827.3,428.2 841.6,427.3 855.4,426.2 869.2,425.7 883.1,425.5" fill="none" stroke="#e24d42" stroke-width="1.05" stroke-opacity="0.92" stroke-linejoin="round"/>
<polyline points="66.2,440.7 80.0,440.7 93.8,440.7 107.6,441.8 121.5,442.6 135.3,442.6 149.1,442.3 162.9,441.4 176.7,440.5 190.6,440.5 204.4,440.8 218.2,441.9 232.0,443.2 245.8,442.3 259.7,441.9 274.0,441.0 287.8,440.1 301.6,440.1 315.4,440.5 329.3,441.0 343.1,441.4 356.9,442.3 370.7,442.8 384.6,442.6 398.7,442.6 412.5,442.1 426.3,441.7 440.2,441.9 454.0,442.3 467.8,442.1 481.9,441.7 495.7,441.4 509.6,441.4 523.4,441.7 537.2,442.3 551.0,442.1 564.8,441.9 578.7,441.9 592.5,441.7 606.3,442.1 620.6,442.3 634.4,442.1 648.2,441.9 662.0,442.1 675.8,442.6 689.1,441.7 702.9,441.4 716.7,441.4 730.6,441.7 744.4,442.1 758.2,443.2 772.0,443.5 785.8,443.7 799.7,443.0 813.5,441.9 827.3,441.7 841.6,441.9 855.4,442.6 869.2,444.4 883.1,444.6" fill="none" stroke="#1f78c1" stroke-width="1.05" stroke-opacity="0.92" stroke-linejoin="round"/>
<polyline points="66.2,447.6 80.0,447.3 93.8,446.4 107.6,444.8 121.5,443.5 135.3,444.6 149.1,445.9 162.9,446.4 176.7,446.5 190.6,446.5 204.4,446.5 218.2,446.4 232.0,446.2 245.8,444.8 259.7,443.5 274.0,444.8 287.8,445.9 301.6,446.6 315.4,447.5 329.3,447.1 343.1,446.4 356.9,445.5 370.7,444.4 384.6,444.8 398.7,445.3 412.5,445.5 426.3,445.7 440.2,445.3 454.0,444.8 467.8,444.6 481.9,444.8 495.7,444.6 509.6,444.6 523.4,444.6 537.2,444.6 551.0,444.1 564.8,443.2 578.7,441.9 592.5,440.8 606.3,440.8 620.6,441.0 634.4,441.4 648.2,441.7 662.0,441.7 675.8,441.7 689.1,442.3 702.9,443.5 716.7,443.2 730.6,442.8 744.4,442.3 758.2,442.6 772.0,442.8 785.8,443.0 799.7,443.2 813.5,443.2 827.3,443.2 841.6,443.5 855.4,443.2 869.2,442.8 883.1,442.6" fill="none" stroke="#9673b9" stroke-width="1.05" stroke-opacity="0.92" stroke-linejoin="round"/>
<path d="M66 511H883" stroke="#a48a62" stroke-width="2.7" fill="none"/>
</svg>
<span style="position:absolute;top:404.90px;font-size:12px;line-height:16px;color:#c3c3d2;white-space:nowrap;left:24.90px;transform-origin:100% 50%;transform:scaleX(0.9650);">2.50 K</span>
<span style="position:absolute;top:423.90px;font-size:12px;line-height:16px;color:#c3c3d2;white-space:nowrap;left:41.58px;transform-origin:100% 50%;transform:scaleX(0.9650);">2 K</span>
<span style="position:absolute;top:443.90px;font-size:12px;line-height:16px;color:#c3c3d2;white-space:nowrap;left:24.90px;transform-origin:100% 50%;transform:scaleX(0.9650);">1.50 K</span>
<span style="position:absolute;top:462.90px;font-size:12px;line-height:16px;color:#c3c3d2;white-space:nowrap;left:41.58px;transform-origin:100% 50%;transform:scaleX(0.9650);">1 K</span>
<span style="position:absolute;top:482.90px;font-size:12px;line-height:16px;color:#c3c3d2;white-space:nowrap;left:39.57px;transform-origin:100% 50%;transform:scaleX(0.9650);">500</span>
<span style="position:absolute;top:503.40px;font-size:12px;line-height:16px;color:#c3c3d2;white-space:nowrap;left:52.92px;transform-origin:100% 50%;transform:scaleX(0.9650);">0</span>
<span style="position:absolute;top:518.00px;font-size:12px;line-height:16px;color:#c3c3d2;white-space:nowrap;left:50.78px;transform-origin:50% 50%;transform:scaleX(0.9650);">14:36</span>
<span style="position:absolute;top:518.00px;font-size:12px;line-height:16px;color:#c3c3d2;white-space:nowrap;left:161.63px;transform-origin:50% 50%;transform:scaleX(0.9650);">14:38</span>
<span style="position:absolute;top:518.00px;font-size:12px;line-height:16px;color:#c3c3d2;white-space:nowrap;left:272.48px;transform-origin:50% 50%;transform:scaleX(0.9650);">14:40</span>
<span style="position:absolute;top:518.00px;font-size:12px;line-height:16px;color:#c3c3d2;white-space:nowrap;left:383.33px;transform-origin:50% 50%;transform:scaleX(0.9650);">14:42</span>
<span style="position:absolute;top:518.00px;font-size:12px;line-height:16px;color:#c3c3d2;white-space:nowrap;left:494.18px;transform-origin:50% 50%;transform:scaleX(0.9650);">14:44</span>
<span style="position:absolute;top:518.00px;font-size:12px;line-height:16px;color:#c3c3d2;white-space:nowrap;left:605.03px;transform-origin:50% 50%;transform:scaleX(0.9650);">14:46</span>
<span style="position:absolute;top:518.00px;font-size:12px;line-height:16px;color:#c3c3d2;white-space:nowrap;left:715.88px;transform-origin:50% 50%;transform:scaleX(0.9650);">14:48</span>
<span style="position:absolute;top:518.00px;font-size:12px;line-height:16px;color:#c3c3d2;white-space:nowrap;left:826.73px;transform-origin:50% 50%;transform:scaleX(0.9650);">14:50</span>
<svg style="position:absolute;left:987px;top:400px" width="836" height="120" viewBox="987 400 836 120">
<defs><linearGradient id="g2_0" gradientUnits="userSpaceOnUse" x1="0" y1="439.9" x2="0" y2="511"><stop offset="0" stop-color="#7eb26d" stop-opacity="0.095"/><stop offset="1" stop-color="#7eb26d" stop-opacity="0"/></linearGradient></defs>
<polygon points="989.2,440.5 1003.0,440.5 1016.8,440.5 1030.6,441.4 1044.5,442.1 1058.3,442.3 1072.1,442.3 1085.9,441.2 1099.7,439.9 1113.6,440.1 1127.4,440.5 1141.2,441.9 1155.0,443.5 1168.8,442.3 1182.7,441.7 1197.0,440.5 1210.8,439.9 1224.6,440.5 1238.4,441.4 1252.3,441.4 1266.1,441.4 1279.9,441.7 1293.7,442.3 1307.6,442.3 1321.7,442.3 1335.5,442.1 1349.3,441.7 1363.2,441.9 1377.0,442.1 1390.8,441.9 1404.9,441.4 1418.7,441.2 1432.6,441.0 1446.4,441.4 1460.2,441.9 1474.0,441.9 1487.8,441.4 1501.7,441.7 1515.5,441.7 1529.3,441.7 1543.6,442.1 1557.4,442.3 1571.2,441.9 1585.0,442.1 1598.8,442.3 1612.1,441.4 1625.9,441.2 1639.7,441.4 1653.6,441.7 1667.4,442.6 1681.2,443.5 1695.0,443.9 1708.8,443.9 1722.7,442.8 1736.5,441.7 1750.3,441.4 1764.6,441.4 1778.4,442.3 1792.2,444.4 1806.1,444.6 1806.1,511.0 989.2,511.0" fill="url(#g2_0)"/>
<defs><linearGradient id="g2_1" gradientUnits="userSpaceOnUse" x1="0" y1="440.3" x2="0" y2="511"><stop offset="0" stop-color="#6ed0e0" stop-opacity="0.095"/><stop offset="1" stop-color="#6ed0e0" stop-opacity="0"/></linearGradient></defs>
<polygon points="989.2,448.2 1003.0,447.3 1016.8,446.4 1030.6,444.6 1044.5,443.2 1058.3,444.4 1072.1,445.9 1085.9,446.4 1099.7,446.4 1113.6,446.6 1127.4,447.1 1141.2,446.6 1155.0,446.2 1168.8,445.5 1182.7,444.6 1197.0,444.8 1210.8,445.3 1224.6,445.7 1238.4,446.2 1252.3,446.4 1266.1,446.4 1279.9,445.5 1293.7,444.4 1307.6,444.6 1321.7,445.0 1335.5,445.3 1349.3,445.3 1363.2,445.3 1377.0,445.0 1390.8,445.0 1404.9,445.3 1418.7,445.0 1432.6,444.8 1446.4,444.6 1460.2,444.6 1474.0,444.4 1487.8,443.7 1501.7,442.3 1515.5,441.0 1529.3,440.5 1543.6,440.3 1557.4,440.5 1571.2,441.0 1585.0,441.7 1598.8,441.9 1612.1,442.1 1625.9,443.5 1639.7,443.0 1653.6,442.3 1667.4,442.3 1681.2,442.6 1695.0,443.0 1708.8,443.7 1722.7,443.5 1736.5,443.2 1750.3,443.5 1764.6,443.5 1778.4,443.2 1792.2,443.2 1806.1,443.2 1806.1,511.0 989.2,511.0" fill="url(#g2_1)"/>
<defs><linearGradient id="g2_2" gradientUnits="userSpaceOnUse" x1="0" y1="434.8" x2="0" y2="511"><stop offset="0" stop-color="#e24d42" stop-opacity="0.095"/><stop offset="1" stop-color="#e24d42" stop-opacity="0"/></linearGradient></defs>
<polygon points="989.2,434.8 1003.0,436.7 1016.8,438.7 1030.6,440.3 1044.5,441.4 1058.3,441.7 1072.1,440.3 1085.9,439.0 1099.7,437.4 1113.6,436.3 1127.4,437.6 1141.2,439.0 1155.0,440.5 1168.8,441.7 1182.7,441.7 1197.0,441.0 1210.8,440.3 1224.6,439.6 1238.4,438.5 1252.3,438.1 1266.1,438.5 1279.9,438.7 1293.7,439.4 1307.6,439.4 1321.7,438.5 1335.5,437.6 1349.3,437.6 1363.2,437.8 1377.0,439.4 1390.8,440.5 1404.9,440.8 1418.7,441.0 1432.6,441.2 1446.4,441.7 1460.2,441.9 1474.0,442.1 1487.8,443.7 1501.7,445.3 1515.5,443.0 1529.3,440.8 1543.6,439.0 1557.4,438.1 1571.2,440.3 1585.0,441.7 1598.8,441.4 1612.1,440.8 1625.9,440.3 1639.7,439.9 1653.6,439.4 1667.4,439.0 1681.2,439.6 1695.0,440.5 1708.8,441.7 1722.7,442.3 1736.5,442.6 1750.3,442.3 1764.6,441.4 1778.4,440.1 1792.2,439.6 1806.1,439.4 1806.1,511.0 989.2,511.0" fill="url(#g2_2)"/>
<path d="M988.5 413.5V511.0M1099.5 413.5V511.0M1210.5 413.5V511.0M1320.5 413.5V511.0M1431.5 413.5V511.0M1542.5 413.5V511.0M1653.5 413.5V511.0M1764.5 413.5V511.0" stroke="rgba(205,208,206,0.215)" stroke-width="1" fill="none" shape-rendering="crispEdges"/>
<path d="M989.0 413.5H1819.0M989.0 432.5H1819.0M989.0 452.5H1819.0M989.0 471.5H1819.0M989.0 491.5H1819.0M989.0 511.5H1819.0" stroke="rgba(205,208,206,0.215)" stroke-width="1" fill="none" shape-rendering="crispEdges"/>
<polyline points="989.2,440.5 1003.0,440.5 1016.8,440.5 1030.6,441.4 1044.5,442.1 1058.3,442.3 1072.1,442.3 1085.9,441.2 1099.7,439.9 1113.6,440.1 1127.4,440.5 1141.2,441.9 1155.0,443.5 1168.8,442.3 1182.7,441.7 1197.0,440.5 1210.8,439.9 1224.6,440.5 1238.4,441.4 1252.3,441.4 1266.1,441.4 1279.9,441.7 1293.7,442.3 1307.6,442.3 1321.7,442.3 1335.5,442.1 1349.3,441.7 1363.2,441.9 1377.0,442.1 1390.8,441.9 1404.9,441.4 1418.7,441.2 1432.6,441.0 1446.4,441.4 1460.2,441.9 1474.0,441.9 1487.8,441.4 1501.7,441.7 1515.5,441.7 1529.3,441.7 1543.6,442.1 1557.4,442.3 1571.2,441.9 1585.0,442.1 1598.8,442.3 1612.1,441.4 1625.9,441.2 1639.7,441.4 1653.6,441.7 1667.4,442.6 1681.2,443.5 1695.0,443.9 1708.8,443.9 1722.7,442.8 1736.5,441.7 1750.3,441.4 1764.6,441.4 1778.4,442.3 1792.2,444.4 1806.1,444.6" fill="none" stroke="#7eb26d" stroke-width="1.05" stroke-opacity="0.92" stroke-linejoin="round"/>
<polyline points="989.2,448.2 1003.0,447.3 1016.8,446.4 1030.6,444.6 1044.5,443.2 1058.3,444.4 1072.1,445.9 1085.9,446.4 1099.7,446.4 1113.6,446.6 1127.4,447.1 1141.2,446.6 1155.0,446.2 1168.8,445.5 1182.7,444.6 1197.0,444.8 1210.8,445.3 1224.6,445.7 1238.4,446.2 1252.3,446.4 1266.1,446.4 1279.9,445.5 1293.7,444.4 1307.6,444.6 1321.7,445.0 1335.5,445.3 1349.3,445.3 1363.2,445.3 1377.0,445.0 1390.8,445.0 1404.9,445.3 1418.7,445.0 1432.6,444.8 1446.4,444.6 1460.2,444.6 1474.0,444.4 1487.8,443.7 1501.7,442.3 1515.5,441.0 1529.3,440.5 1543.6,440.3 1557.4,440.5 1571.2,441.0 1585.0,441.7 1598.8,441.9 1612.1,442.1 1625.9,443.5 1639.7,443.0 1653.6,442.3 1667.4,442.3 1681.2,442.6 1695.0,443.0 1708.8,443.7 1722.7,443.5 1736.5,443.2 1750.3,443.5 1764.6,443.5 1778.4,443.2 1792.2,443.2 1806.1,443.2" fill="none" stroke="#6ed0e0" stroke-width="1.05" stroke-opacity="0.92" stroke-linejoin="round"/>
<polyline points="989.2,434.8 1003.0,436.7 1016.8,438.7 1030.6,440.3 1044.5,441.4 1058.3,441.7 1072.1,440.3 1085.9,439.0 1099.7,437.4 1113.6,436.3 1127.4,437.6 1141.2,439.0 1155.0,440.5 1168.8,441.7 1182.7,441.7 1197.0,441.0 1210.8,440.3 1224.6,439.6 1238.4,438.5 1252.3,438.1 1266.1,438.5 1279.9,438.7 1293.7,439.4 1307.6,439.4 1321.7,438.5 1335.5,437.6 1349.3,437.6 1363.2,437.8 1377.0,439.4 1390.8,440.5 1404.9,440.8 1418.7,441.0 1432.6,441.2 1446.4,441.7 1460.2,441.9 1474.0,442.1 1487.8,443.7 1501.7,445.3 1515.5,443.0 1529.3,440.8 1543.6,439.0 1557.4,438.1 1571.2,440.3 1585.0,441.7 1598.8,441.4 1612.1,440.8 1625.9,440.3 1639.7,439.9 1653.6,439.4 1667.4,439.0 1681.2,439.6 1695.0,440.5 1708.8,441.7 1722.7,442.3 1736.5,442.6 1750.3,442.3 1764.6,441.4 1778.4,440.1 1792.2,439.6 1806.1,439.4" fill="none" stroke="#e24d42" stroke-width="1.05" stroke-opacity="0.92" stroke-linejoin="round"/>
<path d="M989 511H1806" stroke="#dd882b" stroke-width="2.0" fill="none"/>
</svg>
<span style="position:absolute;top:404.90px;font-size:12px;line-height:16px;color:#c3c3d2;white-space:nowrap;left:947.90px;transform-origin:100% 50%;transform:scaleX(0.9650);">2.50 K</span>
<span style="position:absolute;top:423.90px;font-size:12px;line-height:16px;color:#c3c3d2;white-space:nowrap;left:964.58px;transform-origin:100% 50%;transform:scaleX(0.9650);">2 K</span>
<span style="position:absolute;top:443.90px;font-size:12px;line-height:16px;color:#c3c3d2;white-space:nowrap;left:947.90px;transform-origin:100% 50%;transform:scaleX(0.9650);">1.50 K</span>
<span style="position:absolute;top:462.90px;font-size:12px;line-height:16px;color:#c3c3d2;white-space:nowrap;left:964.58px;transform-origin:100% 50%;transform:scaleX(0.9650);">1 K</span>
<span style="position:absolute;top:482.90px;font-size:12px;line-height:16px;color:#c3c3d2;white-space:nowrap;left:962.57px;transform-origin:100% 50%;transform:scaleX(0.9650);">500</span>
<span style="position:absolute;top:503.40px;font-size:12px;line-height:16px;color:#c3c3d2;white-space:nowrap;left:975.92px;transform-origin:100% 50%;transform:scaleX(0.9650);">0</span>
<span style="position:absolute;top:518.00px;font-size:12px;line-height:16px;color:#c3c3d2;white-space:nowrap;left:973.38px;transform-origin:50% 50%;transform:scaleX(0.9650);">14:36</span>
<span style="position:absolute;top:518.00px;font-size:12px;line-height:16px;color:#c3c3d2;white-space:nowrap;left:1084.23px;transform-origin:50% 50%;transform:scaleX(0.9650);">14:38</span>
<span style="position:absolute;top:518.00px;font-size:12px;line-height:16px;color:#c3c3d2;white-space:nowrap;left:1195.08px;transform-origin:50% 50%;transform:scaleX(0.9650);">14:40</span>
<span style="position:absolute;top:518.00px;font-size:12px;line-height:16px;color:#c3c3d2;white-space:nowrap;left:1305.93px;transform-origin:50% 50%;transform:scaleX(0.9650);">14:42</span>
<span style="position:absolute;top:518.00px;font-size:12px;line-height:16px;color:#c3c3d2;white-space:nowrap;left:1416.78px;transform-origin:50% 50%;transform:scaleX(0.9650);">14:44</span>
<span style="position:absolute;top:518.00px;font-size:12px;line-height:16px;color:#c3c3d2;white-space:nowrap;left:1527.63px;transform-origin:50% 50%;transform:scaleX(0.9650);">14:46</span>
<span style="position:absolute;top:518.00px;font-size:12px;line-height:16px;color:#c3c3d2;white-space:nowrap;left:1638.48px;transform-origin:50% 50%;transform:scaleX(0.9650);">14:48</span>
<span style="position:absolute;top:518.00px;font-size:12px;line-height:16px;color:#c3c3d2;white-space:nowrap;left:1749.33px;transform-origin:50% 50%;transform:scaleX(0.9650);">14:50</span>
<svg style="position:absolute;left:16px;top:552px" width="607" height="220" viewBox="16 552 607 220">
<polygon points="52.5,625.5 61.5,625.5 70.4,625.5 79.3,625.5 88.3,625.4 97.2,625.4 106.2,625.3 115.2,625.3 124.1,625.2 133.1,625.1 142.0,625.1 150.9,625.0 159.9,625.0 168.8,625.0 177.8,625.0 186.8,625.0 195.7,625.0 204.7,625.1 213.6,625.1 222.6,625.2 231.5,625.2 240.4,625.3 249.4,625.4 258.4,625.4 267.3,625.5 276.2,625.5 285.2,625.5 294.1,625.5 303.1,625.5 312.1,625.5 321.0,625.4 329.9,625.4 338.9,625.3 347.9,625.3 356.8,625.2 365.8,625.1 374.7,625.1 383.6,625.0 392.6,625.0 401.6,625.0 410.5,625.0 419.4,625.0 428.4,625.0 437.4,625.1 446.3,625.1 455.2,625.2 464.2,625.2 473.1,625.3 482.1,625.4 491.1,625.4 500.0,625.5 508.9,625.5 517.9,625.5 526.9,625.5 535.8,625.5 544.8,625.5 553.7,625.4 562.6,625.4 571.6,625.3 580.5,625.3 589.5,625.2 589.5,691.5 52.5,691.5" fill="#353b35"/>
<path d="M52.5 603.0V692.0M125.5 603.0V692.0M198.5 603.0V692.0M271.5 603.0V692.0M343.5 603.0V692.0M416.5 603.0V692.0M489.5 603.0V692.0M562.5 603.0V692.0" stroke="rgba(205,208,206,0.215)" stroke-width="1" fill="none" shape-rendering="crispEdges"/>
<path d="M52.0 603.5H597.5M52.0 625.5H597.5M52.0 647.5H597.5M52.0 669.5H597.5M52.0 691.5H597.5" stroke="rgba(205,208,206,0.215)" stroke-width="1" fill="none" shape-rendering="crispEdges"/>
<polyline points="52.5,625.5 61.5,625.5 70.4,625.5 79.3,625.5 88.3,625.4 97.2,625.4 106.2,625.3 115.2,625.3 124.1,625.2 133.1,625.1 142.0,625.1 150.9,625.3 159.9,625.9 168.8,626.2 177.8,625.7 186.8,625.2 195.7,625.1 204.7,625.1 213.6,625.5 222.6,626.9 231.5,626.3 240.4,625.4 249.4,625.4 258.4,625.4 267.3,625.5 276.2,625.5 285.2,625.5 294.1,625.5 303.1,625.5 312.1,625.5 321.0,625.4 329.9,625.4 338.9,625.3 347.9,625.3 356.8,625.2 365.8,625.1 374.7,625.2 383.6,625.7 392.6,626.1 401.6,625.7 410.5,625.1 419.4,624.2 428.4,623.7 437.4,624.8 446.3,625.1 455.2,625.2 464.2,625.2 473.1,625.3 482.1,625.4 491.1,625.4 500.0,625.5 508.9,626.1 517.9,627.2 526.9,627.3 535.8,626.3 544.8,625.5 553.7,624.5 562.6,623.7 571.6,624.9 580.5,625.2 589.5,625.2" fill="none" stroke="#d9ad34" stroke-width="1.2" stroke-opacity="1" stroke-linejoin="round"/>
<polyline points="52.5,625.5 61.5,625.5 70.4,625.5 79.3,625.5 88.3,625.4 97.2,625.4 106.2,625.3 115.2,625.3 124.1,625.2 133.1,625.1 142.0,625.1 150.9,625.0 159.9,625.0 168.8,625.0 177.8,625.0 186.8,625.0 195.7,625.0 204.7,625.1 213.6,625.1 222.6,625.2 231.5,625.2 240.4,625.3 249.4,625.4 258.4,625.4 267.3,625.5 276.2,625.5 285.2,625.5 294.1,625.5 303.1,625.5 312.1,625.5 321.0,625.4 329.9,625.4 338.9,625.3 347.9,625.3 356.8,625.2 365.8,625.1 374.7,625.1 383.6,625.0 392.6,625.0 401.6,625.0 410.5,625.0 419.4,625.0 428.4,625.0 437.4,625.1 446.3,625.1 455.2,625.2 464.2,625.2 473.1,625.3 482.1,625.4 491.1,625.4 500.0,625.5 508.9,625.5 517.9,625.5 526.9,625.5 535.8,625.5 544.8,625.5 553.7,625.4 562.6,625.4 571.6,625.3 580.5,625.3 589.5,625.2" fill="none" stroke="#7eb26d" stroke-width="1.3" stroke-opacity="0.9" stroke-linejoin="round"/>
<polyline points="52.5,625.6 61.5,625.6 70.4,625.6 79.3,625.6 88.3,625.6 97.2,625.5 106.2,625.5 115.2,625.4 124.1,625.3 133.1,625.3 142.0,625.2 150.9,625.2 159.9,625.2 168.8,625.2 177.8,625.2 186.8,625.2 195.7,625.2 204.7,625.2 213.6,625.3 222.6,625.3 231.5,625.4 240.4,625.5 249.4,625.5 258.4,625.6 267.3,625.6 276.2,625.6 285.2,625.6 294.1,625.6 303.1,625.6 312.1,625.6 321.0,625.6 329.9,625.5 338.9,625.5 347.9,625.4 356.8,625.3 365.8,625.3 374.7,625.2 383.6,625.2 392.6,625.2 401.6,625.2 410.5,625.2 419.4,625.2 428.4,625.2 437.4,625.2 446.3,625.3 455.2,625.3 464.2,625.4 473.1,625.5 482.1,625.5 491.1,625.6 500.0,625.6 508.9,625.6 517.9,625.6 526.9,625.6 535.8,625.6 544.8,625.6 553.7,625.6 562.6,625.5 571.6,625.5 580.5,625.4 589.5,625.3" fill="none" stroke="#86d6e2" stroke-width="1.2" stroke-opacity="0.85" stroke-linejoin="round"/>
<polygon points="52.5,687.9 61.5,687.8 70.4,687.7 79.3,687.6 88.3,687.5 97.2,687.4 106.2,687.4 115.2,687.4 124.1,687.5 133.1,687.6 142.0,687.7 150.9,687.8 159.9,687.9 168.8,688.0 177.8,688.0 186.8,688.0 195.7,687.9 204.7,687.9 213.6,687.7 222.6,687.6 231.5,687.5 240.4,687.4 249.4,687.4 258.4,687.4 267.3,687.5 276.2,687.5 285.2,687.7 294.1,687.8 303.1,687.9 312.1,688.0 321.0,688.0 329.9,688.0 338.9,687.9 347.9,687.9 356.8,687.8 365.8,687.6 374.7,687.5 383.6,687.5 392.6,687.4 401.6,687.4 410.5,687.4 419.4,687.5 428.4,687.6 437.4,687.7 446.3,687.9 455.2,687.9 464.2,688.0 473.1,688.0 482.1,688.0 491.1,687.9 500.0,687.8 508.9,687.7 517.9,687.5 526.9,687.5 535.8,687.4 544.8,687.4 553.7,687.4 562.6,687.5 571.6,687.6 580.5,687.7 589.5,687.8 589.5,691.5 52.5,691.5" fill="#7eb26d" fill-opacity="0.16"/>
<polyline points="52.5,687.9 61.5,687.8 70.4,687.7 79.3,687.6 88.3,687.5 97.2,687.4 106.2,687.4 115.2,687.4 124.1,687.5 133.1,687.6 142.0,687.7 150.9,687.8 159.9,687.9 168.8,688.0 177.8,688.0 186.8,688.0 195.7,687.9 204.7,687.9 213.6,687.7 222.6,687.6 231.5,687.5 240.4,687.4 249.4,687.4 258.4,687.4 267.3,687.5 276.2,687.5 285.2,687.7 294.1,687.8 303.1,687.9 312.1,688.0 321.0,688.0 329.9,688.0 338.9,687.9 347.9,687.9 356.8,687.8 365.8,687.6 374.7,687.5 383.6,687.5 392.6,687.4 401.6,687.4 410.5,687.4 419.4,687.5 428.4,687.6 437.4,687.7 446.3,687.9 455.2,687.9 464.2,688.0 473.1,688.0 482.1,688.0 491.1,687.9 500.0,687.8 508.9,687.7 517.9,687.5 526.9,687.5 535.8,687.4 544.8,687.4 553.7,687.4 562.6,687.5 571.6,687.6 580.5,687.7 589.5,687.8" fill="none" stroke="#74a865" stroke-width="1.1" stroke-opacity="1" stroke-linejoin="round"/>
<path d="M52.5 690.9H589.5" stroke="#db5a40" stroke-width="1.7" fill="none"/>
</svg>
<span style="position:absolute;top:595.50px;font-size:12px;line-height:16px;color:#c3c3d2;white-space:nowrap;left:25.87px;transform-origin:100% 50%;transform:scaleX(0.9650);">200</span>
<span style="position:absolute;top:617.50px;font-size:12px;line-height:16px;color:#c3c3d2;white-space:nowrap;left:25.87px;transform-origin:100% 50%;transform:scaleX(0.9650);">150</span>
<span style="position:absolute;top:639.50px;font-size:12px;line-height:16px;color:#c3c3d2;white-space:nowrap;left:25.87px;transform-origin:100% 50%;transform:scaleX(0.9650);">100</span>
<span style="position:absolute;top:661.50px;font-size:12px;line-height:16px;color:#c3c3d2;white-space:nowrap;left:32.55px;transform-origin:100% 50%;transform:scaleX(0.9650);">50</span>
<span style="position:absolute;top:683.50px;font-size:12px;line-height:16px;color:#c3c3d2;white-space:nowrap;left:39.22px;transform-origin:100% 50%;transform:scaleX(0.9650);">0</span>
<span style="position:absolute;top:698.40px;font-size:12px;line-height:16px;color:#c3c3d2;white-space:nowrap;left:37.58px;transform-origin:50% 50%;transform:scaleX(0.9650);">14:36</span>
<span style="position:absolute;top:698.40px;font-size:12px;line-height:16px;color:#c3c3d2;white-space:nowrap;left:110.43px;transform-origin:50% 50%;transform:scaleX(0.9650);">14:38</span>
<span style="position:absolute;top:698.40px;font-size:12px;line-height:16px;color:#c3c3d2;white-space:nowrap;left:183.28px;transform-origin:50% 50%;transform:scaleX(0.9650);">14:40</span>
<span style="position:absolute;top:698.40px;font-size:12px;line-height:16px;color:#c3c3d2;white-space:nowrap;left:256.13px;transform-origin:50% 50%;transform:scaleX(0.9650);">14:42</span>
<span style="position:absolute;top:698.40px;font-size:12px;line-height:16px;color:#c3c3d2;white-space:nowrap;left:328.98px;transform-origin:50% 50%;transform:scaleX(0.9650);">14:44</span>
<span style="position:absolute;top:698.40px;font-size:12px;line-height:16px;color:#c3c3d2;white-space:nowrap;left:401.83px;transform-origin:50% 50%;transform:scaleX(0.9650);">14:46</span>
<span style="position:absolute;top:698.40px;font-size:12px;line-height:16px;color:#c3c3d2;white-space:nowrap;left:474.68px;transform-origin:50% 50%;transform:scaleX(0.9650);">14:48</span>
<span style="position:absolute;top:698.40px;font-size:12px;line-height:16px;color:#c3c3d2;white-space:nowrap;left:547.53px;transform-origin:50% 50%;transform:scaleX(0.9650);">14:50</span>
<div style="position:absolute;left:35px;top:730.5px;width:14px;height:4px;box-sizing:border-box;background:#7eb26d;border-radius:1px;"></div>
<span style="position:absolute;top:724.00px;font-size:12px;line-height:16px;color:#ccccdc;white-space:nowrap;left:61.00px;transform-origin:0 50%;transform:scaleX(1.0251);">ActivateJobs Request</span>
<div style="position:absolute;left:194px;top:730.5px;width:14px;height:4px;box-sizing:border-box;background:#eab839;border-radius:1px;"></div>
<span style="position:absolute;top:724.00px;font-size:12px;line-height:16px;color:#ccccdc;white-space:nowrap;left:220.00px;transform-origin:0 50%;transform:scaleX(1.0188);">CompleteJob Request</span>
<div style="position:absolute;left:355px;top:730.5px;width:14px;height:4px;box-sizing:border-box;background:#6ed0e0;border-radius:1px;"></div>
<span style="position:absolute;top:724.00px;font-size:12px;line-height:16px;color:#ccccdc;white-space:nowrap;left:381.00px;transform-origin:0 50%;transform:scaleX(1.0099);">CreateProcessInstance Request</span>
<div style="position:absolute;left:35px;top:751.5px;width:14px;height:4px;box-sizing:border-box;background:#ef843c;border-radius:1px;"></div>
<span style="position:absolute;top:745.00px;font-size:12px;line-height:16px;color:#ccccdc;white-space:nowrap;left:61.00px;transform-origin:0 50%;transform:scaleX(0.9907);">DeployResource Request</span>
<div style="position:absolute;left:211px;top:751.5px;width:14px;height:4px;box-sizing:border-box;background:#e24d42;border-radius:1px;"></div>
<span style="position:absolute;top:745.00px;font-size:12px;line-height:16px;color:#ccccdc;white-space:nowrap;left:237.00px;transform-origin:0 50%;transform:scaleX(1.0146);">Topology Request</span>
<span style="position:absolute;top:592.50px;font-size:14.5px;line-height:19px;color:#73bf69;white-space:nowrap;-webkit-text-stroke:0.46px #73bf69;left:961.21px;transform-origin:50% 50%;transform:scaleX(1.0501);">446</span>
<span style="position:absolute;top:668.50px;font-size:14.5px;line-height:19px;color:#ccccdc;white-space:nowrap;-webkit-text-stroke:0.46px #ccccdc;left:961.21px;transform-origin:50% 50%;transform:scaleX(1.0501);">149</span>
<span style="position:absolute;top:744.50px;font-size:14.5px;line-height:19px;color:#ccccdc;white-space:nowrap;-webkit-text-stroke:0.46px #ccccdc;left:961.21px;transform-origin:50% 50%;transform:scaleX(1.0501);">149</span>
<svg style="position:absolute;left:1323px;top:552px" width="530" height="220" viewBox="1323 552 530 220">
<polygon points="1359.5,634.6 1370.4,634.6 1375.5,636.0 1393.5,636.8 1406.4,636.8 1416.6,635.0 1424.3,634.2 1434.6,634.8 1444.9,636.6 1453.9,637.8 1465.4,636.3 1483.4,636.3 1496.3,636.0 1509.1,635.3 1515.5,634.8 1524.5,635.8 1538.6,636.6 1552.8,635.0 1570.7,634.8 1578.4,636.0 1590.0,636.3 1613.1,636.0 1622.1,637.1 1643.9,636.8 1654.2,634.8 1661.9,634.0 1679.9,634.8 1687.6,635.5 1703.0,635.0 1718.4,635.0 1744.1,634.8 1751.8,636.0 1760.8,637.1 1787.8,637.1 1795.5,636.0 1821.1,636.3 1821.1,733.0 1359.5,733.0" fill="#65535a"/>
<path d="M1359.5 603.0V733.0M1422.5 603.0V733.0M1484.5 603.0V733.0M1547.5 603.0V733.0M1609.5 603.0V733.0M1672.5 603.0V733.0M1734.5 603.0V733.0M1797.5 603.0V733.0" stroke="rgba(205,208,206,0.215)" stroke-width="1" fill="none" shape-rendering="crispEdges"/>
<path d="M1359.0 603.5H1828.0M1359.0 635.5H1828.0M1359.0 668.5H1828.0M1359.0 700.5H1828.0M1359.0 733.5H1828.0" stroke="rgba(205,208,206,0.215)" stroke-width="1" fill="none" shape-rendering="crispEdges"/>
<polyline points="1359.5,635.1 1370.4,635.1 1375.5,636.5 1393.5,637.3 1406.4,637.3 1416.6,635.5 1424.3,634.7 1434.6,635.3 1444.9,637.1 1453.9,638.3 1465.4,636.8 1483.4,636.8 1496.3,636.5 1509.1,635.8 1515.5,635.3 1524.5,636.3 1538.6,637.1 1552.8,635.5 1570.7,635.3 1578.4,636.5 1590.0,636.8 1613.1,636.5 1622.1,637.6 1643.9,637.3 1654.2,635.3 1661.9,634.5 1679.9,635.3 1687.6,636.0 1703.0,635.5 1718.4,635.5 1744.1,635.3 1751.8,636.5 1760.8,637.6 1787.8,637.6 1795.5,636.5 1821.1,636.8" fill="none" stroke="#7a72b8" stroke-width="1.1" stroke-opacity="0.85" stroke-linejoin="round"/>
<polyline points="1359.5,634.6 1370.4,634.6 1375.5,636.0 1393.5,636.8 1406.4,636.8 1416.6,635.0 1424.3,634.2 1434.6,634.8 1444.9,636.6 1453.9,637.8 1465.4,636.3 1483.4,636.3 1496.3,636.0 1509.1,635.3 1515.5,634.8 1524.5,635.8 1538.6,636.6 1552.8,635.0 1570.7,634.8 1578.4,636.0 1590.0,636.3 1613.1,636.0 1622.1,637.1 1643.9,636.8 1654.2,634.8 1661.9,634.0 1679.9,634.8 1687.6,635.5 1703.0,635.0 1718.4,635.0 1744.1,634.8 1751.8,636.0 1760.8,637.1 1787.8,637.1 1795.5,636.0 1821.1,636.3" fill="none" stroke="#a860c6" stroke-width="1.2" stroke-opacity="0.92" stroke-linejoin="round"/>
</svg>
<span style="position:absolute;top:595.50px;font-size:12px;line-height:16px;color:#c3c3d2;white-space:nowrap;left:1332.57px;transform-origin:100% 50%;transform:scaleX(0.9650);">200</span>
<span style="position:absolute;top:627.50px;font-size:12px;line-height:16px;color:#c3c3d2;white-space:nowrap;left:1332.57px;transform-origin:100% 50%;transform:scaleX(0.9650);">150</span>
<span style="position:absolute;top:660.00px;font-size:12px;line-height:16px;color:#c3c3d2;white-space:nowrap;left:1332.57px;transform-origin:100% 50%;transform:scaleX(0.9650);">100</span>
<span style="position:absolute;top:692.50px;font-size:12px;line-height:16px;color:#c3c3d2;white-space:nowrap;left:1339.25px;transform-origin:100% 50%;transform:scaleX(0.9650);">50</span>
<span style="position:absolute;top:725.00px;font-size:12px;line-height:16px;color:#c3c3d2;white-space:nowrap;left:1345.92px;transform-origin:100% 50%;transform:scaleX(0.9650);">0</span>
<span style="position:absolute;top:740.00px;font-size:12px;line-height:16px;color:#c3c3d2;white-space:nowrap;left:1345.18px;transform-origin:50% 50%;transform:scaleX(0.9650);">14:36</span>
<span style="position:absolute;top:740.00px;font-size:12px;line-height:16px;color:#c3c3d2;white-space:nowrap;left:1407.73px;transform-origin:50% 50%;transform:scaleX(0.9650);">14:38</span>
<span style="position:absolute;top:740.00px;font-size:12px;line-height:16px;color:#c3c3d2;white-space:nowrap;left:1470.28px;transform-origin:50% 50%;transform:scaleX(0.9650);">14:40</span>
<span style="position:absolute;top:740.00px;font-size:12px;line-height:16px;color:#c3c3d2;white-space:nowrap;left:1532.83px;transform-origin:50% 50%;transform:scaleX(0.9650);">14:42</span>
<span style="position:absolute;top:740.00px;font-size:12px;line-height:16px;color:#c3c3d2;white-space:nowrap;left:1595.38px;transform-origin:50% 50%;transform:scaleX(0.9650);">14:44</span>
<span style="position:absolute;top:740.00px;font-size:12px;line-height:16px;color:#c3c3d2;white-space:nowrap;left:1657.93px;transform-origin:50% 50%;transform:scaleX(0.9650);">14:46</span>
<span style="position:absolute;top:740.00px;font-size:12px;line-height:16px;color:#c3c3d2;white-space:nowrap;left:1720.48px;transform-origin:50% 50%;transform:scaleX(0.9650);">14:48</span>
<span style="position:absolute;top:740.00px;font-size:12px;line-height:16px;color:#c3c3d2;white-space:nowrap;left:1783.03px;transform-origin:50% 50%;transform:scaleX(0.9650);">14:50</span>
<svg style="position:absolute;left:16px;top:780px" width="607" height="220" viewBox="16 780 607 220">
<rect x="60.5" y="831" width="537" height="25" fill="#e24d42" fill-opacity="0.13"/>
<polygon points="60.3,946.7 69.3,942.2 96.2,942.2 105.2,950.5 168.0,950.5 177.0,949.0 239.8,949.0 248.8,947.8 347.5,947.8 356.5,951.2 419.3,951.2 428.3,944.2 527.0,944.2 536.0,952.7 589.8,952.7 589.8,961.4 60.3,961.4" fill="#7eb26d" fill-opacity="0.10"/>
<polygon points="60.3,951.7 96.2,951.7 105.2,944.5 132.1,944.5 141.1,945.5 203.9,945.5 212.9,951.7 275.7,951.7 284.7,944.5 347.5,944.5 356.5,950.8 383.4,950.8 392.4,952.0 455.2,952.0 464.2,945.0 491.1,945.0 500.1,947.2 562.9,947.2 571.9,945.6 589.8,945.6 589.8,961.4 60.3,961.4" fill="#eab839" fill-opacity="0.10"/>
<polygon points="60.3,948.3 69.3,948.7 96.2,948.7 105.2,945.5 132.1,945.5 141.1,947.5 203.9,947.5 212.9,949.0 311.6,949.2 320.6,950.1 347.5,950.1 356.5,946.4 419.3,946.4 428.3,944.5 455.2,944.5 464.2,948.6 589.8,948.6 589.8,961.4 60.3,961.4" fill="#6ed0e0" fill-opacity="0.10"/>
<path d="M60.5 831.0V961.5M132.5 831.0V961.5M204.5 831.0V961.5M275.5 831.0V961.5M347.5 831.0V961.5M419.5 831.0V961.5M491.5 831.0V961.5M563.5 831.0V961.5" stroke="rgba(205,208,206,0.215)" stroke-width="1" fill="none" shape-rendering="crispEdges"/>
<path d="M60.0 831.5H597.5M60.0 863.5H597.5M60.0 896.5H597.5M60.0 928.5H597.5M60.0 961.5H597.5" stroke="rgba(205,208,206,0.215)" stroke-width="1" fill="none" shape-rendering="crispEdges"/>
<path d="M60.5 856.3H597.5" stroke="#b03a26" stroke-width="2" fill="none"/>
<polyline points="60.3,946.7 69.3,942.2 96.2,942.2 105.2,950.5 168.0,950.5 177.0,949.0 239.8,949.0 248.8,947.8 347.5,947.8 356.5,951.2 419.3,951.2 428.3,944.2 527.0,944.2 536.0,952.7 589.8,952.7" fill="none" stroke="#7eb26d" stroke-width="1.0" stroke-opacity="0.9" stroke-linejoin="round"/>
<polyline points="60.3,951.7 96.2,951.7 105.2,944.5 132.1,944.5 141.1,945.5 203.9,945.5 212.9,951.7 275.7,951.7 284.7,944.5 347.5,944.5 356.5,950.8 383.4,950.8 392.4,952.0 455.2,952.0 464.2,945.0 491.1,945.0 500.1,947.2 562.9,947.2 571.9,945.6 589.8,945.6" fill="none" stroke="#e0b030" stroke-width="1.2" stroke-opacity="0.95" stroke-linejoin="round"/>
<polyline points="60.3,948.3 69.3,948.7 96.2,948.7 105.2,945.5 132.1,945.5 141.1,947.5 203.9,947.5 212.9,949.0 311.6,949.2 320.6,950.1 347.5,950.1 356.5,946.4 419.3,946.4 428.3,944.5 455.2,944.5 464.2,948.6 589.8,948.6" fill="none" stroke="#6ed0e0" stroke-width="1.1" stroke-opacity="0.9" stroke-linejoin="round"/>
</svg>
<span style="position:absolute;top:823.00px;font-size:12px;line-height:16px;color:#c3c3d2;white-space:nowrap;left:23.90px;transform-origin:100% 50%;transform:scaleX(0.9650);">100%</span>
<span style="position:absolute;top:855.50px;font-size:12px;line-height:16px;color:#c3c3d2;white-space:nowrap;left:30.58px;transform-origin:100% 50%;transform:scaleX(0.9650);">75%</span>
<span style="position:absolute;top:888.00px;font-size:12px;line-height:16px;color:#c3c3d2;white-space:nowrap;left:30.58px;transform-origin:100% 50%;transform:scaleX(0.9650);">50%</span>
<span style="position:absolute;top:920.50px;font-size:12px;line-height:16px;color:#c3c3d2;white-space:nowrap;left:30.58px;transform-origin:100% 50%;transform:scaleX(0.9650);">25%</span>
<span style="position:absolute;top:953.50px;font-size:12px;line-height:16px;color:#c3c3d2;white-space:nowrap;left:37.25px;transform-origin:100% 50%;transform:scaleX(0.9650);">0%</span>
<span style="position:absolute;top:968.00px;font-size:12px;line-height:16px;color:#c3c3d2;white-space:nowrap;left:45.28px;transform-origin:50% 50%;transform:scaleX(0.9650);">14:36</span>
<span style="position:absolute;top:968.00px;font-size:12px;line-height:16px;color:#c3c3d2;white-space:nowrap;left:117.08px;transform-origin:50% 50%;transform:scaleX(0.9650);">14:38</span>
<span style="position:absolute;top:968.00px;font-size:12px;line-height:16px;color:#c3c3d2;white-space:nowrap;left:188.88px;transform-origin:50% 50%;transform:scaleX(0.9650);">14:40</span>
<span style="position:absolute;top:968.00px;font-size:12px;line-height:16px;color:#c3c3d2;white-space:nowrap;left:260.68px;transform-origin:50% 50%;transform:scaleX(0.9650);">14:42</span>
<span style="position:absolute;top:968.00px;font-size:12px;line-height:16px;color:#c3c3d2;white-space:nowrap;left:332.48px;transform-origin:50% 50%;transform:scaleX(0.9650);">14:44</span>
<span style="position:absolute;top:968.00px;font-size:12px;line-height:16px;color:#c3c3d2;white-space:nowrap;left:404.28px;transform-origin:50% 50%;transform:scaleX(0.9650);">14:46</span>
<span style="position:absolute;top:968.00px;font-size:12px;line-height:16px;color:#c3c3d2;white-space:nowrap;left:476.08px;transform-origin:50% 50%;transform:scaleX(0.9650);">14:48</span>
<span style="position:absolute;top:968.00px;font-size:12px;line-height:16px;color:#c3c3d2;white-space:nowrap;left:547.88px;transform-origin:50% 50%;transform:scaleX(0.9650);">14:50</span>
<svg style="position:absolute;left:0;top:0;pointer-events:none" width="1869" height="1101" viewBox="0 0 1869 1101"><text transform="translate(689.44 871.00) scale(0.9602 1.0000)" font-family="Liberation Sans, sans-serif" font-size="24.7" fill="#ccccdc">Partition 1</text></svg>
<svg style="position:absolute;left:0;top:0;pointer-events:none" width="1869" height="1101" viewBox="0 0 1869 1101"><text transform="translate(659.96 943.70) scale(0.9581 1.0000)" font-family="Liberation Sans, sans-serif" font-size="70.5" fill="#73bf69" stroke="#73bf69" stroke-width="2.0" stroke-linejoin="miter" stroke-miterlimit="6">5</text></svg>
<svg style="position:absolute;left:0;top:0;pointer-events:none" width="1869" height="1101" viewBox="0 0 1869 1101"><text transform="translate(719.87 943.70) scale(0.9677 1.0000)" font-family="Liberation Sans, sans-serif" font-size="70.5" fill="#73bf69" stroke="#73bf69" stroke-width="2.0" stroke-linejoin="miter" stroke-miterlimit="6">8</text></svg>
<svg style="position:absolute;left:0;top:0;pointer-events:none" width="1869" height="1101" viewBox="0 0 1869 1101"><text transform="translate(761.79 943.70) scale(0.9412 1.0000)" font-family="Liberation Sans, sans-serif" font-size="70.5" fill="#73bf69" stroke="#73bf69" stroke-width="2.0" stroke-linejoin="miter" stroke-miterlimit="6">5</text></svg>
<svg style="position:absolute;left:0;top:0" width="1869" height="1101" viewBox="0 0 1869 1101"><circle cx="708.1" cy="939.9" r="5.1" fill="#73bf69"/></svg>
<svg style="position:absolute;left:0;top:0;pointer-events:none" width="1869" height="1101" viewBox="0 0 1869 1101"><text transform="translate(800.81 943.60) scale(0.8201 1.0000)" font-family="Liberation Sans, sans-serif" font-size="41.2" fill="#73bf69" stroke="#73bf69" stroke-width="1.7" stroke-linejoin="miter" stroke-miterlimit="6">%</text></svg>
<svg style="position:absolute;left:0;top:0;pointer-events:none" width="1869" height="1101" viewBox="0 0 1869 1101"><text transform="translate(917.67 871.00) scale(0.9959 1.0000)" font-family="Liberation Sans, sans-serif" font-size="24.7" fill="#ccccdc">Partition 2</text></svg>
<svg style="position:absolute;left:0;top:0;pointer-events:none" width="1869" height="1101" viewBox="0 0 1869 1101"><text transform="translate(888.85 943.70) scale(0.9609 1.0000)" font-family="Liberation Sans, sans-serif" font-size="70.5" fill="#73bf69" stroke="#73bf69" stroke-width="2.0" stroke-linejoin="miter" stroke-miterlimit="6">5</text></svg>
<svg style="position:absolute;left:0;top:0;pointer-events:none" width="1869" height="1101" viewBox="0 0 1869 1101"><text transform="translate(948.12 943.70) scale(0.9709 1.0000)" font-family="Liberation Sans, sans-serif" font-size="70.5" fill="#73bf69" stroke="#73bf69" stroke-width="2.0" stroke-linejoin="miter" stroke-miterlimit="6">9</text></svg>
<svg style="position:absolute;left:0;top:0;pointer-events:none" width="1869" height="1101" viewBox="0 0 1869 1101"><text transform="translate(986.84 943.70) scale(1.0535 1.0000)" font-family="Liberation Sans, sans-serif" font-size="70.5" fill="#73bf69" stroke="#73bf69" stroke-width="2.0" stroke-linejoin="miter" stroke-miterlimit="6">7</text></svg>
<svg style="position:absolute;left:0;top:0" width="1869" height="1101" viewBox="0 0 1869 1101"><circle cx="936.4" cy="939.9" r="5.1" fill="#73bf69"/></svg>
<svg style="position:absolute;left:0;top:0;pointer-events:none" width="1869" height="1101" viewBox="0 0 1869 1101"><text transform="translate(1029.43 943.60) scale(0.8004 1.0000)" font-family="Liberation Sans, sans-serif" font-size="41.2" fill="#73bf69" stroke="#73bf69" stroke-width="1.7" stroke-linejoin="miter" stroke-miterlimit="6">%</text></svg>
<svg style="position:absolute;left:0;top:0;pointer-events:none" width="1869" height="1101" viewBox="0 0 1869 1101"><text transform="translate(1146.30 871.00) scale(0.9822 1.0000)" font-family="Liberation Sans, sans-serif" font-size="24.7" fill="#ccccdc">Partition 3</text></svg>
<svg style="position:absolute;left:0;top:0;pointer-events:none" width="1869" height="1101" viewBox="0 0 1869 1101"><text transform="translate(1115.25 943.70) scale(0.9440 1.0000)" font-family="Liberation Sans, sans-serif" font-size="70.5" fill="#73bf69" stroke="#73bf69" stroke-width="2.0" stroke-linejoin="miter" stroke-miterlimit="6">3</text></svg>
<svg style="position:absolute;left:0;top:0;pointer-events:none" width="1869" height="1101" viewBox="0 0 1869 1101"><text transform="translate(1176.22 943.70) scale(0.9866 1.0000)" font-family="Liberation Sans, sans-serif" font-size="70.5" fill="#73bf69" stroke="#73bf69" stroke-width="2.0" stroke-linejoin="miter" stroke-miterlimit="6">4</text></svg>
<svg style="position:absolute;left:0;top:0;pointer-events:none" width="1869" height="1101" viewBox="0 0 1869 1101"><text transform="translate(1215.32 943.70) scale(1.0623 1.0000)" font-family="Liberation Sans, sans-serif" font-size="70.5" fill="#73bf69" stroke="#73bf69" stroke-width="2.0" stroke-linejoin="miter" stroke-miterlimit="6">7</text></svg>
<svg style="position:absolute;left:0;top:0" width="1869" height="1101" viewBox="0 0 1869 1101"><circle cx="1164.9" cy="939.9" r="5.1" fill="#73bf69"/></svg>
<svg style="position:absolute;left:0;top:0;pointer-events:none" width="1869" height="1101" viewBox="0 0 1869 1101"><text transform="translate(1257.53 943.60) scale(0.7975 1.0000)" font-family="Liberation Sans, sans-serif" font-size="41.2" fill="#73bf69" stroke="#73bf69" stroke-width="1.7" stroke-linejoin="miter" stroke-miterlimit="6">%</text></svg>
<svg style="position:absolute;left:631px;top:985px" width="684" height="15" viewBox="631 985 684 15">
<polygon points="632.1,997.5 640.0,998.6 651.2,996.7 662.5,996.7 669.9,995.6 677.4,994.1 684.9,996.0 692.4,997.5 703.7,996.3 714.9,996.0 722.4,997.5 729.9,997.5 737.4,995.2 744.9,996.0 756.1,996.7 767.3,996.3 774.8,995.2 786.0,996.7 797.3,997.1 812.3,997.5 819.8,996.3 827.2,995.2 840.4,995.2 853.8,993.7 853.8,999.2 632.1,999.2" fill="#73bf69" fill-opacity="0.20"/>
<polyline points="632.1,997.5 640.0,998.6 651.2,996.7 662.5,996.7 669.9,995.6 677.4,994.1 684.9,996.0 692.4,997.5 703.7,996.3 714.9,996.0 722.4,997.5 729.9,997.5 737.4,995.2 744.9,996.0 756.1,996.7 767.3,996.3 774.8,995.2 786.0,996.7 797.3,997.1 812.3,997.5 819.8,996.3 827.2,995.2 840.4,995.2 853.8,993.7" fill="none" stroke="#5c9c54" stroke-width="1.1" stroke-opacity="1" stroke-linejoin="round"/>
<polygon points="861.0,994.1 868.4,995.2 875.9,996.0 883.4,994.1 894.7,993.7 905.9,992.6 913.4,994.9 920.9,995.2 928.4,993.4 935.9,993.4 943.4,994.5 954.6,995.2 965.8,994.5 970.0,994.5 985.0,994.9 996.2,996.0 1007.5,996.7 1024.3,997.5 1033.7,996.3 1041.2,997.1 1048.7,996.3 1056.1,994.9 1067.4,994.5 1082.4,994.1 1082.4,999.2 861.0,999.2" fill="#73bf69" fill-opacity="0.20"/>
<polyline points="861.0,994.1 868.4,995.2 875.9,996.0 883.4,994.1 894.7,993.7 905.9,992.6 913.4,994.9 920.9,995.2 928.4,993.4 935.9,993.4 943.4,994.5 954.6,995.2 965.8,994.5 970.0,994.5 985.0,994.9 996.2,996.0 1007.5,996.7 1024.3,997.5 1033.7,996.3 1041.2,997.1 1048.7,996.3 1056.1,994.9 1067.4,994.5 1082.4,994.1" fill="none" stroke="#5c9c54" stroke-width="1.1" stroke-opacity="1" stroke-linejoin="round"/>
<polygon points="1089.1,997.8 1099.2,998.2 1108.6,996.0 1116.1,994.9 1123.6,996.0 1131.0,996.0 1138.5,995.2 1149.8,995.6 1164.8,996.3 1176.0,996.7 1191.0,996.7 1206.0,997.1 1213.4,995.6 1220.9,994.9 1228.4,996.3 1235.9,997.5 1250.9,997.1 1265.9,997.5 1280.9,997.1 1288.4,995.6 1295.8,994.9 1303.3,995.6 1310.8,996.3 1310.8,999.2 1089.1,999.2" fill="#73bf69" fill-opacity="0.20"/>
<polyline points="1089.1,997.8 1099.2,998.2 1108.6,996.0 1116.1,994.9 1123.6,996.0 1131.0,996.0 1138.5,995.2 1149.8,995.6 1164.8,996.3 1176.0,996.7 1191.0,996.7 1206.0,997.1 1213.4,995.6 1220.9,994.9 1228.4,996.3 1235.9,997.5 1250.9,997.1 1265.9,997.5 1280.9,997.1 1288.4,995.6 1295.8,994.9 1303.3,995.6 1310.8,996.3" fill="none" stroke="#5c9c54" stroke-width="1.1" stroke-opacity="1" stroke-linejoin="round"/>
</svg>
<svg style="position:absolute;left:1323px;top:780px" width="530" height="220" viewBox="1323 780 530 220">
<rect x="1364.5" y="865.5" width="456.5" height="95.5" fill="#3d483b"/>
<polygon points="1364.5,858 1640,856.8 1821,856 1821,865.5 1364.5,865.5" fill="#27322a"/>
<rect x="1364.5" y="948.2" width="456.5" height="12.8" fill="#634b3a"/>
<path d="M1364.5 831.0V961.0M1426.5 831.0V961.0M1488.5 831.0V961.0M1550.5 831.0V961.0M1612.5 831.0V961.0M1674.5 831.0V961.0M1735.5 831.0V961.0M1797.5 831.0V961.0" stroke="rgba(205,208,206,0.215)" stroke-width="1" fill="none" shape-rendering="crispEdges"/>
<path d="M1364.0 831.5H1828.0M1364.0 863.5H1828.0M1364.0 896.5H1828.0M1364.0 928.5H1828.0M1364.0 961.5H1828.0" stroke="rgba(205,208,206,0.215)" stroke-width="1" fill="none" shape-rendering="crispEdges"/>
<polyline points="1364.5,858.6 1482.0,857.2 1821.0,857.1" fill="none" stroke="#6a9a5a" stroke-width="1.1" stroke-opacity="0.8" stroke-linejoin="round"/>
<polyline points="1364.5,857.7 1380.0,857.7 1482.0,856.5 1627.0,856.6 1636.0,857.2 1720.0,857.2 1735.0,856.6 1762.0,856.6 1772.0,857.3 1783.0,857.3 1790.0,856.3 1821.0,856.3" fill="none" stroke="#78ad66" stroke-width="1.2" stroke-opacity="1" stroke-linejoin="round"/>
<polyline points="1382.0,864.1 1442.0,864.1" fill="none" stroke="#c9963a" stroke-width="0.9" stroke-opacity="0.35" stroke-linejoin="round"/>
<polyline points="1616.0,864.2 1693.0,864.2" fill="none" stroke="#c9963a" stroke-width="0.9" stroke-opacity="0.4" stroke-linejoin="round"/>
<polyline points="1364.5,865.3 1442.0,865.3 1450.0,865.9 1597.0,865.9 1603.0,865.2 1821.0,865.2" fill="none" stroke="#a8d6a0" stroke-width="1.2" stroke-opacity="1" stroke-linejoin="round"/>
<polyline points="1364.5,866.2 1442.0,866.2 1450.0,866.8 1597.0,866.8 1603.0,866.1 1821.0,866.1" fill="none" stroke="#62b4cc" stroke-width="1.2" stroke-opacity="1" stroke-linejoin="round"/>
<path d="M1364.5 948.2H1821" stroke="#e0802c" stroke-width="1.4" fill="none"/>
<path d="M1364.5 951.8H1821" stroke="#d8483c" stroke-width="1.4" fill="none"/>
</svg>
<span style="position:absolute;top:823.00px;font-size:12px;line-height:16px;color:#c3c3d2;white-space:nowrap;left:1331.25px;transform-origin:100% 50%;transform:scaleX(0.9650);">4 GB</span>
<span style="position:absolute;top:855.50px;font-size:12px;line-height:16px;color:#c3c3d2;white-space:nowrap;left:1331.25px;transform-origin:100% 50%;transform:scaleX(0.9650);">3 GB</span>
<span style="position:absolute;top:888.00px;font-size:12px;line-height:16px;color:#c3c3d2;white-space:nowrap;left:1331.25px;transform-origin:100% 50%;transform:scaleX(0.9650);">2 GB</span>
<span style="position:absolute;top:920.50px;font-size:12px;line-height:16px;color:#c3c3d2;white-space:nowrap;left:1331.25px;transform-origin:100% 50%;transform:scaleX(0.9650);">1 GB</span>
<span style="position:absolute;top:953.00px;font-size:12px;line-height:16px;color:#c3c3d2;white-space:nowrap;left:1340.58px;transform-origin:100% 50%;transform:scaleX(0.9650);">0 B</span>
<span style="position:absolute;top:968.00px;font-size:12px;line-height:16px;color:#c3c3d2;white-space:nowrap;left:1350.18px;transform-origin:50% 50%;transform:scaleX(0.9650);">14:36</span>
<span style="position:absolute;top:968.00px;font-size:12px;line-height:16px;color:#c3c3d2;white-space:nowrap;left:1412.08px;transform-origin:50% 50%;transform:scaleX(0.9650);">14:38</span>
<span style="position:absolute;top:968.00px;font-size:12px;line-height:16px;color:#c3c3d2;white-space:nowrap;left:1473.98px;transform-origin:50% 50%;transform:scaleX(0.9650);">14:40</span>
<span style="position:absolute;top:968.00px;font-size:12px;line-height:16px;color:#c3c3d2;white-space:nowrap;left:1535.88px;transform-origin:50% 50%;transform:scaleX(0.9650);">14:42</span>
<span style="position:absolute;top:968.00px;font-size:12px;line-height:16px;color:#c3c3d2;white-space:nowrap;left:1597.78px;transform-origin:50% 50%;transform:scaleX(0.9650);">14:44</span>
<span style="position:absolute;top:968.00px;font-size:12px;line-height:16px;color:#c3c3d2;white-space:nowrap;left:1659.68px;transform-origin:50% 50%;transform:scaleX(0.9650);">14:46</span>
<span style="position:absolute;top:968.00px;font-size:12px;line-height:16px;color:#c3c3d2;white-space:nowrap;left:1721.58px;transform-origin:50% 50%;transform:scaleX(0.9650);">14:48</span>
<span style="position:absolute;top:968.00px;font-size:12px;line-height:16px;color:#c3c3d2;white-space:nowrap;left:1783.48px;transform-origin:50% 50%;transform:scaleX(0.9650);">14:50</span>
<div style="position:absolute;left:16px;top:1008px;width:1837px;height:30px;box-sizing:border-box;background:#181b1f;border-radius:2px;"></div>
<svg style="position:absolute;left:24px;top:1019px" width="7" height="10" viewBox="0 0 7 10"><path d="M1.6 1.4l3.4 3.6-3.4 3.6" fill="none" stroke="#ccccdc" stroke-width="1.5"/></svg>
<span style="position:absolute;top:1012.00px;font-size:16px;line-height:21px;color:#ccccdc;white-space:nowrap;-webkit-text-stroke:0.51px #ccccdc;left:36.00px;transform-origin:0 50%;transform:scaleX(1.0297);">Processing</span>
<span style="position:absolute;top:1016.00px;font-size:12px;line-height:16px;color:#8f909c;white-space:nowrap;font-style:italic;left:134.50px;transform-origin:0 50%;">(12 panels)</span>
<svg style="position:absolute;left:0;top:0" width="1869" height="1101" viewBox="0 0 1869 1101" fill="#4a4a4e"><rect x="1841.0" y="1013.6" width="2.2" height="2.2"/><rect x="1846.2" y="1013.6" width="2.2" height="2.2"/><rect x="1841.0" y="1019.1" width="2.2" height="2.2"/><rect x="1846.2" y="1019.1" width="2.2" height="2.2"/><rect x="1841.0" y="1024.6" width="2.2" height="2.2"/><rect x="1846.2" y="1024.6" width="2.2" height="2.2"/><rect x="1841.0" y="1030.1" width="2.2" height="2.2"/><rect x="1846.2" y="1030.1" width="2.2" height="2.2"/></svg>
<div style="position:absolute;left:16px;top:1046px;width:1837px;height:30px;box-sizing:border-box;background:#181b1f;border-radius:2px;"></div>
<svg style="position:absolute;left:24px;top:1057px" width="7" height="10" viewBox="0 0 7 10"><path d="M1.6 1.4l3.4 3.6-3.4 3.6" fill="none" stroke="#ccccdc" stroke-width="1.5"/></svg>
<span style="position:absolute;top:1050.00px;font-size:16px;line-height:21px;color:#ccccdc;white-space:nowrap;-webkit-text-stroke:0.51px #ccccdc;left:36.00px;transform-origin:0 50%;transform:scaleX(1.0264);">Throughput</span>
<span style="position:absolute;top:1054.00px;font-size:12px;line-height:16px;color:#8f909c;white-space:nowrap;font-style:italic;left:137.00px;transform-origin:0 50%;transform:scaleX(1.0142);">(11 panels)</span>
<svg style="position:absolute;left:0;top:0" width="1869" height="1101" viewBox="0 0 1869 1101" fill="#4a4a4e"><rect x="1841.0" y="1051.6" width="2.2" height="2.2"/><rect x="1846.2" y="1051.6" width="2.2" height="2.2"/><rect x="1841.0" y="1057.1" width="2.2" height="2.2"/><rect x="1846.2" y="1057.1" width="2.2" height="2.2"/><rect x="1841.0" y="1062.6" width="2.2" height="2.2"/><rect x="1846.2" y="1062.6" width="2.2" height="2.2"/><rect x="1841.0" y="1068.1" width="2.2" height="2.2"/><rect x="1846.2" y="1068.1" width="2.2" height="2.2"/></svg>
<div style="position:absolute;left:16px;top:1084px;width:1837px;height:30px;box-sizing:border-box;background:#181b1f;border-radius:2px;"></div>
<svg style="position:absolute;left:24px;top:1095px" width="7" height="10" viewBox="0 0 7 10"><path d="M1.6 1.4l3.4 3.6-3.4 3.6" fill="none" stroke="#ccccdc" stroke-width="1.5"/></svg>
<span style="position:absolute;top:1088.00px;font-size:16px;line-height:21px;color:#ccccdc;white-space:nowrap;-webkit-text-stroke:0.51px #ccccdc;left:36.00px;transform-origin:0 50%;transform:scaleX(1.0184);">Snapshots</span>
<span style="position:absolute;top:1092.00px;font-size:12px;line-height:16px;color:#8f909c;white-space:nowrap;font-style:italic;left:130.00px;transform-origin:0 50%;transform:scaleX(1.0117);">(5 panels)</span>
<svg style="position:absolute;left:0;top:0" width="1869" height="1101" viewBox="0 0 1869 1101" fill="#4a4a4e"><rect x="1841.0" y="1089.6" width="2.2" height="2.2"/><rect x="1846.2" y="1089.6" width="2.2" height="2.2"/><rect x="1841.0" y="1095.1" width="2.2" height="2.2"/><rect x="1846.2" y="1095.1" width="2.2" height="2.2"/><rect x="1841.0" y="1100.6" width="2.2" height="2.2"/><rect x="1846.2" y="1100.6" width="2.2" height="2.2"/><rect x="1841.0" y="1106.1" width="2.2" height="2.2"/><rect x="1846.2" y="1106.1" width="2.2" height="2.2"/></svg>
</div></body></html>
